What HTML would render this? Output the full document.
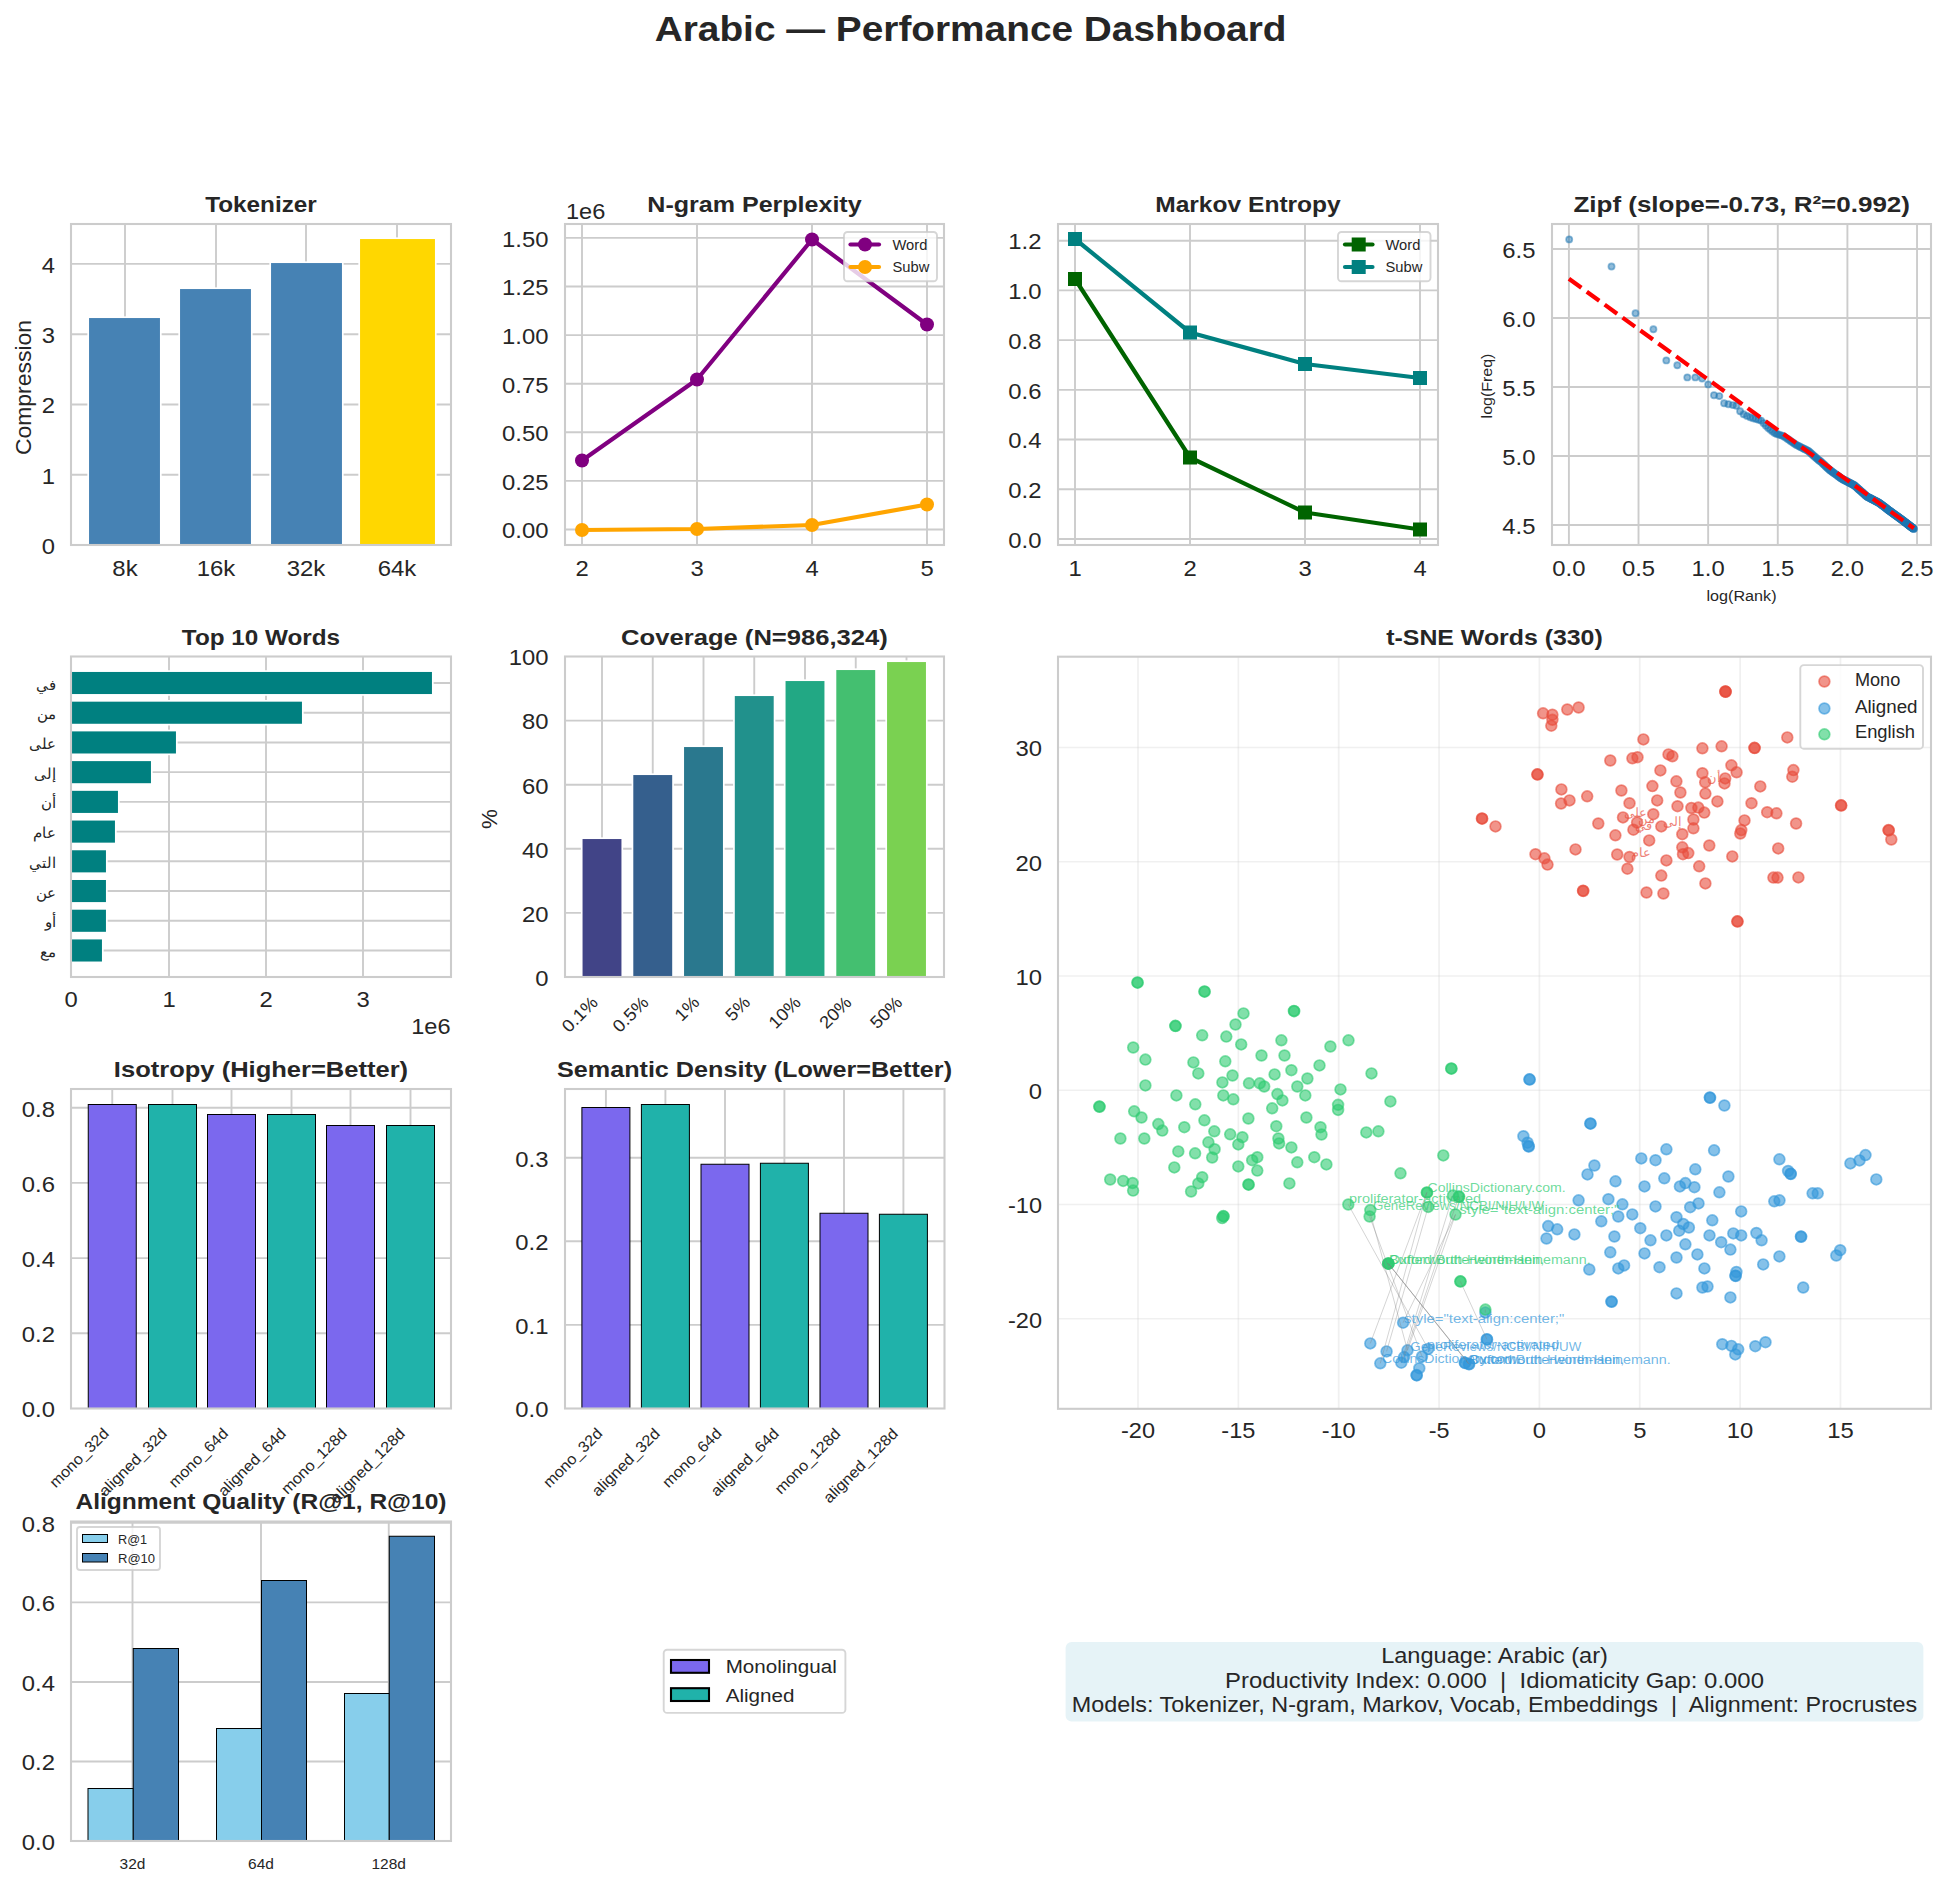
<!DOCTYPE html>
<html><head><meta charset="utf-8"><title>Arabic Performance Dashboard</title>
<style>html,body{margin:0;padding:0;background:#fff}svg{display:block}text{font-family:"Liberation Sans",sans-serif}</style>
</head><body>
<svg width="1948" height="1886" viewBox="0 0 1948 1886">
<rect width="1948" height="1886" fill="#fff"/>
<text x="970.60" y="41.20" font-size="35.00" text-anchor="middle" font-weight="bold" fill="#262626" textLength="631.79" lengthAdjust="spacingAndGlyphs" >Arabic — Performance Dashboard</text>
<line x1="125.00" y1="224.00" x2="125.00" y2="545.00" stroke="#cccccc" stroke-width="1.9" />
<line x1="216.00" y1="224.00" x2="216.00" y2="545.00" stroke="#cccccc" stroke-width="1.9" />
<line x1="306.00" y1="224.00" x2="306.00" y2="545.00" stroke="#cccccc" stroke-width="1.9" />
<line x1="397.00" y1="224.00" x2="397.00" y2="545.00" stroke="#cccccc" stroke-width="1.9" />
<line x1="71.00" y1="474.73" x2="451.00" y2="474.73" stroke="#cccccc" stroke-width="1.9" />
<line x1="71.00" y1="404.46" x2="451.00" y2="404.46" stroke="#cccccc" stroke-width="1.9" />
<line x1="71.00" y1="334.19" x2="451.00" y2="334.19" stroke="#cccccc" stroke-width="1.9" />
<line x1="71.00" y1="263.92" x2="451.00" y2="263.92" stroke="#cccccc" stroke-width="1.9" />
<rect x="88.20" y="317.20" width="72.60" height="227.80" fill="#4682b4" stroke="#fff" stroke-width="1.7" />
<rect x="179.20" y="288.20" width="72.60" height="256.80" fill="#4682b4" stroke="#fff" stroke-width="1.7" />
<rect x="270.20" y="262.20" width="72.60" height="282.80" fill="#4682b4" stroke="#fff" stroke-width="1.7" />
<rect x="359.20" y="238.20" width="76.60" height="306.80" fill="#ffd700" stroke="#fff" stroke-width="1.7" />
<rect x="71.00" y="224.00" width="380.00" height="321.00" fill="none" stroke="#cccccc" stroke-width="2.1"/>
<text x="55.00" y="553.80" font-size="21.87" text-anchor="end" fill="#262626" textLength="13.25" lengthAdjust="spacingAndGlyphs" >0</text>
<text x="55.00" y="483.53" font-size="21.87" text-anchor="end" fill="#262626" textLength="13.25" lengthAdjust="spacingAndGlyphs" >1</text>
<text x="55.00" y="413.26" font-size="21.87" text-anchor="end" fill="#262626" textLength="13.25" lengthAdjust="spacingAndGlyphs" >2</text>
<text x="55.00" y="342.99" font-size="21.87" text-anchor="end" fill="#262626" textLength="13.25" lengthAdjust="spacingAndGlyphs" >3</text>
<text x="55.00" y="272.72" font-size="21.87" text-anchor="end" fill="#262626" textLength="13.25" lengthAdjust="spacingAndGlyphs" >4</text>
<text x="125.00" y="575.50" font-size="21.87" text-anchor="middle" fill="#262626" textLength="25.32" lengthAdjust="spacingAndGlyphs" >8k</text>
<text x="216.00" y="575.50" font-size="21.87" text-anchor="middle" fill="#262626" textLength="38.57" lengthAdjust="spacingAndGlyphs" >16k</text>
<text x="306.00" y="575.50" font-size="21.87" text-anchor="middle" fill="#262626" textLength="38.57" lengthAdjust="spacingAndGlyphs" >32k</text>
<text x="397.00" y="575.50" font-size="21.87" text-anchor="middle" fill="#262626" textLength="38.57" lengthAdjust="spacingAndGlyphs" >64k</text>
<text transform="translate(30.50,387.50) rotate(-90)" x="0.00" y="0.00" font-size="21.87" text-anchor="middle" fill="#262626" textLength="135.16" lengthAdjust="spacingAndGlyphs" >Compression</text>
<text x="261.00" y="212.00" font-size="21.87" text-anchor="middle" font-weight="bold" fill="#262626" textLength="111.67" lengthAdjust="spacingAndGlyphs" >Tokenizer</text>
<line x1="582.00" y1="224.00" x2="582.00" y2="545.00" stroke="#cccccc" stroke-width="1.9" />
<line x1="697.00" y1="224.00" x2="697.00" y2="545.00" stroke="#cccccc" stroke-width="1.9" />
<line x1="812.00" y1="224.00" x2="812.00" y2="545.00" stroke="#cccccc" stroke-width="1.9" />
<line x1="927.00" y1="224.00" x2="927.00" y2="545.00" stroke="#cccccc" stroke-width="1.9" />
<line x1="565.00" y1="529.50" x2="944.00" y2="529.50" stroke="#cccccc" stroke-width="1.9" />
<line x1="565.00" y1="480.90" x2="944.00" y2="480.90" stroke="#cccccc" stroke-width="1.9" />
<line x1="565.00" y1="432.30" x2="944.00" y2="432.30" stroke="#cccccc" stroke-width="1.9" />
<line x1="565.00" y1="383.70" x2="944.00" y2="383.70" stroke="#cccccc" stroke-width="1.9" />
<line x1="565.00" y1="335.10" x2="944.00" y2="335.10" stroke="#cccccc" stroke-width="1.9" />
<line x1="565.00" y1="286.50" x2="944.00" y2="286.50" stroke="#cccccc" stroke-width="1.9" />
<line x1="565.00" y1="237.90" x2="944.00" y2="237.90" stroke="#cccccc" stroke-width="1.9" />
<polyline points="582.0,460.5 697.0,379.5 812.0,239.5 927.0,324.5" fill="none" stroke="#800080" stroke-width="4.2" stroke-linejoin="round"/>
<circle cx="582.0" cy="460.5" r="7" fill="#800080"/>
<circle cx="697.0" cy="379.5" r="7" fill="#800080"/>
<circle cx="812.0" cy="239.5" r="7" fill="#800080"/>
<circle cx="927.0" cy="324.5" r="7" fill="#800080"/>
<polyline points="582.0,530.0 697.0,529.0 812.0,525.0 927.0,504.5" fill="none" stroke="#ffa500" stroke-width="4.2" stroke-linejoin="round"/>
<circle cx="582.0" cy="530.0" r="7" fill="#ffa500"/>
<circle cx="697.0" cy="529.0" r="7" fill="#ffa500"/>
<circle cx="812.0" cy="525.0" r="7" fill="#ffa500"/>
<circle cx="927.0" cy="504.5" r="7" fill="#ffa500"/>
<rect x="565.00" y="224.00" width="379.00" height="321.00" fill="none" stroke="#cccccc" stroke-width="2.1"/>
<text x="548.50" y="538.30" font-size="21.87" text-anchor="end" fill="#262626" textLength="46.38" lengthAdjust="spacingAndGlyphs" >0.00</text>
<text x="548.50" y="489.70" font-size="21.87" text-anchor="end" fill="#262626" textLength="46.38" lengthAdjust="spacingAndGlyphs" >0.25</text>
<text x="548.50" y="441.10" font-size="21.87" text-anchor="end" fill="#262626" textLength="46.38" lengthAdjust="spacingAndGlyphs" >0.50</text>
<text x="548.50" y="392.50" font-size="21.87" text-anchor="end" fill="#262626" textLength="46.38" lengthAdjust="spacingAndGlyphs" >0.75</text>
<text x="548.50" y="343.90" font-size="21.87" text-anchor="end" fill="#262626" textLength="46.38" lengthAdjust="spacingAndGlyphs" >1.00</text>
<text x="548.50" y="295.30" font-size="21.87" text-anchor="end" fill="#262626" textLength="46.38" lengthAdjust="spacingAndGlyphs" >1.25</text>
<text x="548.50" y="246.70" font-size="21.87" text-anchor="end" fill="#262626" textLength="46.38" lengthAdjust="spacingAndGlyphs" >1.50</text>
<text x="582.00" y="575.50" font-size="21.87" text-anchor="middle" fill="#262626" textLength="13.25" lengthAdjust="spacingAndGlyphs" >2</text>
<text x="697.00" y="575.50" font-size="21.87" text-anchor="middle" fill="#262626" textLength="13.25" lengthAdjust="spacingAndGlyphs" >3</text>
<text x="812.00" y="575.50" font-size="21.87" text-anchor="middle" fill="#262626" textLength="13.25" lengthAdjust="spacingAndGlyphs" >4</text>
<text x="927.00" y="575.50" font-size="21.87" text-anchor="middle" fill="#262626" textLength="13.25" lengthAdjust="spacingAndGlyphs" >5</text>
<text x="566.00" y="218.50" font-size="21.87" fill="#262626" textLength="39.32" lengthAdjust="spacingAndGlyphs" >1e6</text>
<text x="754.50" y="212.00" font-size="21.87" text-anchor="middle" font-weight="bold" fill="#262626" textLength="214.23" lengthAdjust="spacingAndGlyphs" >N-gram Perplexity</text>
<rect x="844.00" y="232.00" width="93.00" height="49.30" rx="3.5" fill="#fff" fill-opacity="0.8" stroke="#cccccc" stroke-width="1.9" stroke-opacity="0.8"/>
<line x1="850.50" y1="244.50" x2="879.00" y2="244.50" stroke="#800080" stroke-width="4.2" stroke-linecap="round"/>
<circle cx="865" cy="244.5" r="7" fill="#800080"/>
<line x1="850.50" y1="267.00" x2="879.00" y2="267.00" stroke="#ffa500" stroke-width="4.2" stroke-linecap="round"/>
<circle cx="865" cy="267" r="7" fill="#ffa500"/>
<text x="892.50" y="249.50" font-size="14.22" fill="#262626" textLength="34.80" lengthAdjust="spacingAndGlyphs" >Word</text>
<text x="892.50" y="272.00" font-size="14.22" fill="#262626" textLength="36.85" lengthAdjust="spacingAndGlyphs" >Subw</text>
<line x1="1075.00" y1="224.00" x2="1075.00" y2="545.00" stroke="#cccccc" stroke-width="1.9" />
<line x1="1190.00" y1="224.00" x2="1190.00" y2="545.00" stroke="#cccccc" stroke-width="1.9" />
<line x1="1305.00" y1="224.00" x2="1305.00" y2="545.00" stroke="#cccccc" stroke-width="1.9" />
<line x1="1420.00" y1="224.00" x2="1420.00" y2="545.00" stroke="#cccccc" stroke-width="1.9" />
<line x1="1058.00" y1="539.00" x2="1438.00" y2="539.00" stroke="#cccccc" stroke-width="1.9" />
<line x1="1058.00" y1="489.28" x2="1438.00" y2="489.28" stroke="#cccccc" stroke-width="1.9" />
<line x1="1058.00" y1="439.56" x2="1438.00" y2="439.56" stroke="#cccccc" stroke-width="1.9" />
<line x1="1058.00" y1="389.84" x2="1438.00" y2="389.84" stroke="#cccccc" stroke-width="1.9" />
<line x1="1058.00" y1="340.12" x2="1438.00" y2="340.12" stroke="#cccccc" stroke-width="1.9" />
<line x1="1058.00" y1="290.40" x2="1438.00" y2="290.40" stroke="#cccccc" stroke-width="1.9" />
<line x1="1058.00" y1="240.68" x2="1438.00" y2="240.68" stroke="#cccccc" stroke-width="1.9" />
<polyline points="1075.0,279.0 1190.0,457.5 1305.0,512.5 1420.0,529.5" fill="none" stroke="#006400" stroke-width="4.2" stroke-linejoin="round"/>
<rect x="1068.0" y="272.0" width="14" height="14" fill="#006400"/>
<rect x="1183.0" y="450.5" width="14" height="14" fill="#006400"/>
<rect x="1298.0" y="505.5" width="14" height="14" fill="#006400"/>
<rect x="1413.0" y="522.5" width="14" height="14" fill="#006400"/>
<polyline points="1075.0,239.0 1190.0,332.5 1305.0,364.0 1420.0,378.0" fill="none" stroke="#008080" stroke-width="4.2" stroke-linejoin="round"/>
<rect x="1068.0" y="232.0" width="14" height="14" fill="#008080"/>
<rect x="1183.0" y="325.5" width="14" height="14" fill="#008080"/>
<rect x="1298.0" y="357.0" width="14" height="14" fill="#008080"/>
<rect x="1413.0" y="371.0" width="14" height="14" fill="#008080"/>
<rect x="1058.00" y="224.00" width="380.00" height="321.00" fill="none" stroke="#cccccc" stroke-width="2.1"/>
<text x="1041.50" y="547.80" font-size="21.87" text-anchor="end" fill="#262626" textLength="33.13" lengthAdjust="spacingAndGlyphs" >0.0</text>
<text x="1041.50" y="498.08" font-size="21.87" text-anchor="end" fill="#262626" textLength="33.13" lengthAdjust="spacingAndGlyphs" >0.2</text>
<text x="1041.50" y="448.36" font-size="21.87" text-anchor="end" fill="#262626" textLength="33.13" lengthAdjust="spacingAndGlyphs" >0.4</text>
<text x="1041.50" y="398.64" font-size="21.87" text-anchor="end" fill="#262626" textLength="33.13" lengthAdjust="spacingAndGlyphs" >0.6</text>
<text x="1041.50" y="348.92" font-size="21.87" text-anchor="end" fill="#262626" textLength="33.13" lengthAdjust="spacingAndGlyphs" >0.8</text>
<text x="1041.50" y="299.20" font-size="21.87" text-anchor="end" fill="#262626" textLength="33.13" lengthAdjust="spacingAndGlyphs" >1.0</text>
<text x="1041.50" y="249.48" font-size="21.87" text-anchor="end" fill="#262626" textLength="33.13" lengthAdjust="spacingAndGlyphs" >1.2</text>
<text x="1075.00" y="575.50" font-size="21.87" text-anchor="middle" fill="#262626" textLength="13.25" lengthAdjust="spacingAndGlyphs" >1</text>
<text x="1190.00" y="575.50" font-size="21.87" text-anchor="middle" fill="#262626" textLength="13.25" lengthAdjust="spacingAndGlyphs" >2</text>
<text x="1305.00" y="575.50" font-size="21.87" text-anchor="middle" fill="#262626" textLength="13.25" lengthAdjust="spacingAndGlyphs" >3</text>
<text x="1420.00" y="575.50" font-size="21.87" text-anchor="middle" fill="#262626" textLength="13.25" lengthAdjust="spacingAndGlyphs" >4</text>
<text x="1248.00" y="212.00" font-size="21.87" text-anchor="middle" font-weight="bold" fill="#262626" textLength="185.58" lengthAdjust="spacingAndGlyphs" >Markov Entropy</text>
<rect x="1338.00" y="232.00" width="92.50" height="49.30" rx="3.5" fill="#fff" fill-opacity="0.8" stroke="#cccccc" stroke-width="1.9" stroke-opacity="0.8"/>
<line x1="1345.00" y1="244.50" x2="1372.50" y2="244.50" stroke="#006400" stroke-width="4.2" stroke-linecap="round"/>
<rect x="1351.7" y="237.5" width="14" height="14" fill="#006400"/>
<line x1="1345.00" y1="267.00" x2="1372.50" y2="267.00" stroke="#008080" stroke-width="4.2" stroke-linecap="round"/>
<rect x="1351.7" y="260.0" width="14" height="14" fill="#008080"/>
<text x="1385.50" y="249.50" font-size="14.22" fill="#262626" textLength="34.80" lengthAdjust="spacingAndGlyphs" >Word</text>
<text x="1385.50" y="272.00" font-size="14.22" fill="#262626" textLength="36.85" lengthAdjust="spacingAndGlyphs" >Subw</text>
<line x1="1568.90" y1="224.00" x2="1568.90" y2="545.00" stroke="#cccccc" stroke-width="1.9" />
<line x1="1638.53" y1="224.00" x2="1638.53" y2="545.00" stroke="#cccccc" stroke-width="1.9" />
<line x1="1708.15" y1="224.00" x2="1708.15" y2="545.00" stroke="#cccccc" stroke-width="1.9" />
<line x1="1777.78" y1="224.00" x2="1777.78" y2="545.00" stroke="#cccccc" stroke-width="1.9" />
<line x1="1847.40" y1="224.00" x2="1847.40" y2="545.00" stroke="#cccccc" stroke-width="1.9" />
<line x1="1917.03" y1="224.00" x2="1917.03" y2="545.00" stroke="#cccccc" stroke-width="1.9" />
<line x1="1552.00" y1="525.00" x2="1931.00" y2="525.00" stroke="#cccccc" stroke-width="1.9" />
<line x1="1552.00" y1="456.00" x2="1931.00" y2="456.00" stroke="#cccccc" stroke-width="1.9" />
<line x1="1552.00" y1="387.00" x2="1931.00" y2="387.00" stroke="#cccccc" stroke-width="1.9" />
<line x1="1552.00" y1="318.00" x2="1931.00" y2="318.00" stroke="#cccccc" stroke-width="1.9" />
<line x1="1552.00" y1="249.00" x2="1931.00" y2="249.00" stroke="#cccccc" stroke-width="1.9" />
<g fill="#1f77b4" fill-opacity="0.5" stroke="#1f77b4" stroke-opacity="0.5" stroke-width="1.7">
<circle cx="1569.2" cy="239.4" r="3.1"/>
<circle cx="1611.5" cy="266.5" r="3.1"/>
<circle cx="1635.5" cy="313.3" r="3.1"/>
<circle cx="1653.4" cy="329.3" r="3.1"/>
<circle cx="1666.3" cy="360.4" r="3.1"/>
<circle cx="1677.3" cy="365.3" r="3.1"/>
<circle cx="1687.3" cy="377.4" r="3.1"/>
<circle cx="1695.3" cy="377.4" r="3.1"/>
<circle cx="1702.1" cy="378.6" r="3.1"/>
<circle cx="1708.2" cy="384.4" r="3.1"/>
<circle cx="1714.0" cy="395.2" r="3.1"/>
<circle cx="1719.3" cy="396.1" r="3.1"/>
<circle cx="1724.1" cy="403.3" r="3.1"/>
<circle cx="1728.4" cy="404.2" r="3.1"/>
<circle cx="1732.9" cy="405.1" r="3.1"/>
<circle cx="1736.4" cy="405.7" r="3.1"/>
<circle cx="1740.1" cy="411.3" r="3.1"/>
<circle cx="1743.6" cy="414.3" r="3.1"/>
<circle cx="1747.0" cy="415.9" r="3.1"/>
<circle cx="1750.1" cy="417.2" r="3.1"/>
<circle cx="1753.0" cy="418.2" r="3.1"/>
<circle cx="1755.8" cy="419.0" r="3.1"/>
<circle cx="1758.5" cy="419.8" r="3.1"/>
<circle cx="1761.1" cy="420.6" r="3.1"/>
<circle cx="1763.6" cy="423.2" r="3.1"/>
<circle cx="1765.9" cy="425.8" r="3.1"/>
<circle cx="1768.2" cy="428.1" r="3.1"/>
<circle cx="1770.4" cy="429.8" r="3.1"/>
<circle cx="1772.5" cy="431.5" r="3.1"/>
<circle cx="1774.6" cy="433.1" r="3.1"/>
<circle cx="1776.6" cy="433.9" r="3.1"/>
<circle cx="1778.5" cy="434.5" r="3.1"/>
<circle cx="1780.4" cy="435.1" r="3.1"/>
<circle cx="1782.2" cy="435.6" r="3.1"/>
<circle cx="1783.9" cy="436.4" r="3.1"/>
<circle cx="1785.6" cy="437.6" r="3.1"/>
<circle cx="1787.3" cy="438.7" r="3.1"/>
<circle cx="1788.9" cy="439.8" r="3.1"/>
<circle cx="1790.5" cy="440.9" r="3.1"/>
<circle cx="1792.0" cy="442.0" r="3.1"/>
<circle cx="1793.5" cy="443.0" r="3.1"/>
<circle cx="1794.9" cy="444.0" r="3.1"/>
<circle cx="1796.4" cy="444.9" r="3.1"/>
<circle cx="1797.8" cy="445.6" r="3.1"/>
<circle cx="1799.1" cy="446.3" r="3.1"/>
<circle cx="1800.4" cy="447.0" r="3.1"/>
<circle cx="1801.7" cy="447.6" r="3.1"/>
<circle cx="1803.0" cy="448.3" r="3.1"/>
<circle cx="1804.3" cy="448.9" r="3.1"/>
<circle cx="1805.5" cy="449.5" r="3.1"/>
<circle cx="1806.7" cy="450.1" r="3.1"/>
<circle cx="1807.9" cy="450.7" r="3.1"/>
<circle cx="1809.0" cy="451.5" r="3.1"/>
<circle cx="1810.1" cy="452.5" r="3.1"/>
<circle cx="1811.2" cy="453.5" r="3.1"/>
<circle cx="1812.3" cy="454.5" r="3.1"/>
<circle cx="1813.4" cy="455.4" r="3.1"/>
<circle cx="1814.5" cy="456.4" r="3.1"/>
<circle cx="1815.5" cy="457.3" r="3.1"/>
<circle cx="1816.5" cy="458.2" r="3.1"/>
<circle cx="1817.5" cy="459.1" r="3.1"/>
<circle cx="1818.5" cy="459.9" r="3.1"/>
<circle cx="1819.5" cy="460.8" r="3.1"/>
<circle cx="1820.4" cy="461.3" r="3.1"/>
<circle cx="1821.3" cy="462.1" r="3.1"/>
<circle cx="1822.3" cy="463.0" r="3.1"/>
<circle cx="1823.2" cy="463.9" r="3.1"/>
<circle cx="1824.1" cy="464.7" r="3.1"/>
<circle cx="1825.0" cy="465.5" r="3.1"/>
<circle cx="1825.8" cy="466.4" r="3.1"/>
<circle cx="1826.7" cy="467.2" r="3.1"/>
<circle cx="1827.5" cy="468.0" r="3.1"/>
<circle cx="1828.4" cy="468.8" r="3.1"/>
<circle cx="1829.2" cy="469.6" r="3.1"/>
<circle cx="1830.0" cy="470.2" r="3.1"/>
<circle cx="1830.8" cy="470.8" r="3.1"/>
<circle cx="1831.6" cy="471.3" r="3.1"/>
<circle cx="1832.4" cy="471.9" r="3.1"/>
<circle cx="1833.1" cy="472.5" r="3.1"/>
<circle cx="1833.9" cy="473.0" r="3.1"/>
<circle cx="1834.7" cy="473.6" r="3.1"/>
<circle cx="1835.4" cy="474.1" r="3.1"/>
<circle cx="1836.1" cy="474.6" r="3.1"/>
<circle cx="1836.9" cy="475.1" r="3.1"/>
<circle cx="1837.6" cy="475.7" r="3.1"/>
<circle cx="1838.3" cy="476.2" r="3.1"/>
<circle cx="1839.0" cy="476.7" r="3.1"/>
<circle cx="1839.7" cy="477.2" r="3.1"/>
<circle cx="1840.4" cy="477.7" r="3.1"/>
<circle cx="1841.0" cy="478.2" r="3.1"/>
<circle cx="1841.7" cy="478.6" r="3.1"/>
<circle cx="1842.4" cy="479.0" r="3.1"/>
<circle cx="1843.0" cy="479.4" r="3.1"/>
<circle cx="1843.7" cy="479.7" r="3.1"/>
<circle cx="1844.3" cy="480.0" r="3.1"/>
<circle cx="1844.9" cy="480.4" r="3.1"/>
<circle cx="1845.6" cy="480.7" r="3.1"/>
<circle cx="1846.2" cy="481.0" r="3.1"/>
<circle cx="1846.8" cy="481.3" r="3.1"/>
<circle cx="1847.4" cy="481.7" r="3.1"/>
<circle cx="1848.0" cy="482.0" r="3.1"/>
<circle cx="1848.6" cy="482.3" r="3.1"/>
<circle cx="1849.2" cy="482.6" r="3.1"/>
<circle cx="1849.8" cy="482.9" r="3.1"/>
<circle cx="1850.4" cy="483.2" r="3.1"/>
<circle cx="1850.9" cy="483.5" r="3.1"/>
<circle cx="1851.5" cy="483.8" r="3.1"/>
<circle cx="1852.1" cy="484.1" r="3.1"/>
<circle cx="1852.6" cy="484.4" r="3.1"/>
<circle cx="1853.2" cy="484.7" r="3.1"/>
<circle cx="1853.7" cy="485.0" r="3.1"/>
<circle cx="1854.3" cy="485.3" r="3.1"/>
<circle cx="1854.8" cy="485.7" r="3.1"/>
<circle cx="1855.3" cy="486.2" r="3.1"/>
<circle cx="1855.9" cy="486.6" r="3.1"/>
<circle cx="1856.4" cy="487.1" r="3.1"/>
<circle cx="1856.9" cy="487.6" r="3.1"/>
<circle cx="1857.4" cy="488.0" r="3.1"/>
<circle cx="1857.9" cy="488.5" r="3.1"/>
<circle cx="1858.4" cy="488.9" r="3.1"/>
<circle cx="1858.9" cy="489.4" r="3.1"/>
<circle cx="1859.4" cy="489.8" r="3.1"/>
<circle cx="1859.9" cy="490.3" r="3.1"/>
<circle cx="1860.4" cy="490.7" r="3.1"/>
<circle cx="1860.9" cy="491.1" r="3.1"/>
<circle cx="1861.4" cy="491.6" r="3.1"/>
<circle cx="1861.9" cy="492.0" r="3.1"/>
<circle cx="1862.3" cy="492.4" r="3.1"/>
<circle cx="1862.8" cy="492.8" r="3.1"/>
<circle cx="1863.3" cy="493.2" r="3.1"/>
<circle cx="1863.7" cy="493.6" r="3.1"/>
<circle cx="1864.2" cy="494.1" r="3.1"/>
<circle cx="1864.6" cy="494.5" r="3.1"/>
<circle cx="1865.1" cy="494.9" r="3.1"/>
<circle cx="1865.5" cy="495.3" r="3.1"/>
<circle cx="1866.0" cy="495.7" r="3.1"/>
<circle cx="1866.4" cy="496.1" r="3.1"/>
<circle cx="1866.9" cy="496.4" r="3.1"/>
<circle cx="1867.3" cy="496.7" r="3.1"/>
<circle cx="1867.7" cy="496.9" r="3.1"/>
<circle cx="1868.2" cy="497.1" r="3.1"/>
<circle cx="1868.6" cy="497.4" r="3.1"/>
<circle cx="1869.0" cy="497.6" r="3.1"/>
<circle cx="1869.5" cy="497.8" r="3.1"/>
<circle cx="1869.9" cy="498.0" r="3.1"/>
<circle cx="1870.3" cy="498.2" r="3.1"/>
<circle cx="1870.7" cy="498.5" r="3.1"/>
<circle cx="1871.1" cy="498.7" r="3.1"/>
<circle cx="1871.5" cy="498.9" r="3.1"/>
<circle cx="1871.9" cy="499.1" r="3.1"/>
<circle cx="1872.3" cy="499.3" r="3.1"/>
<circle cx="1872.7" cy="499.5" r="3.1"/>
<circle cx="1873.1" cy="499.7" r="3.1"/>
<circle cx="1873.5" cy="499.9" r="3.1"/>
<circle cx="1873.9" cy="500.1" r="3.1"/>
<circle cx="1874.3" cy="500.3" r="3.1"/>
<circle cx="1874.7" cy="500.6" r="3.1"/>
<circle cx="1875.1" cy="500.8" r="3.1"/>
<circle cx="1875.4" cy="501.0" r="3.1"/>
<circle cx="1875.8" cy="501.2" r="3.1"/>
<circle cx="1876.2" cy="501.3" r="3.1"/>
<circle cx="1876.6" cy="501.5" r="3.1"/>
<circle cx="1876.9" cy="501.7" r="3.1"/>
<circle cx="1877.3" cy="501.9" r="3.1"/>
<circle cx="1877.7" cy="502.1" r="3.1"/>
<circle cx="1878.1" cy="502.3" r="3.1"/>
<circle cx="1878.4" cy="502.5" r="3.1"/>
<circle cx="1878.8" cy="502.7" r="3.1"/>
<circle cx="1879.1" cy="502.9" r="3.1"/>
<circle cx="1879.5" cy="503.1" r="3.1"/>
<circle cx="1879.8" cy="503.4" r="3.1"/>
<circle cx="1880.2" cy="503.6" r="3.1"/>
<circle cx="1880.5" cy="503.9" r="3.1"/>
<circle cx="1880.9" cy="504.2" r="3.1"/>
<circle cx="1881.2" cy="504.4" r="3.1"/>
<circle cx="1881.6" cy="504.7" r="3.1"/>
<circle cx="1881.9" cy="505.0" r="3.1"/>
<circle cx="1882.3" cy="505.2" r="3.1"/>
<circle cx="1882.6" cy="505.5" r="3.1"/>
<circle cx="1882.9" cy="505.7" r="3.1"/>
<circle cx="1883.3" cy="506.0" r="3.1"/>
<circle cx="1883.6" cy="506.3" r="3.1"/>
<circle cx="1883.9" cy="506.5" r="3.1"/>
<circle cx="1884.3" cy="506.8" r="3.1"/>
<circle cx="1884.6" cy="507.0" r="3.1"/>
<circle cx="1884.9" cy="507.3" r="3.1"/>
<circle cx="1885.3" cy="507.5" r="3.1"/>
<circle cx="1885.6" cy="507.8" r="3.1"/>
<circle cx="1885.9" cy="508.0" r="3.1"/>
<circle cx="1886.2" cy="508.2" r="3.1"/>
<circle cx="1886.5" cy="508.5" r="3.1"/>
<circle cx="1886.8" cy="508.7" r="3.1"/>
<circle cx="1887.2" cy="509.0" r="3.1"/>
<circle cx="1887.5" cy="509.2" r="3.1"/>
<circle cx="1887.8" cy="509.4" r="3.1"/>
<circle cx="1888.1" cy="509.7" r="3.1"/>
<circle cx="1888.4" cy="509.9" r="3.1"/>
<circle cx="1888.7" cy="510.2" r="3.1"/>
<circle cx="1889.0" cy="510.4" r="3.1"/>
<circle cx="1889.3" cy="510.6" r="3.1"/>
<circle cx="1889.6" cy="510.8" r="3.1"/>
<circle cx="1889.9" cy="511.0" r="3.1"/>
<circle cx="1890.2" cy="511.3" r="3.1"/>
<circle cx="1890.5" cy="511.5" r="3.1"/>
<circle cx="1890.8" cy="511.7" r="3.1"/>
<circle cx="1891.1" cy="511.9" r="3.1"/>
<circle cx="1891.4" cy="512.1" r="3.1"/>
<circle cx="1891.7" cy="512.3" r="3.1"/>
<circle cx="1892.0" cy="512.5" r="3.1"/>
<circle cx="1892.3" cy="512.7" r="3.1"/>
<circle cx="1892.6" cy="513.0" r="3.1"/>
<circle cx="1892.8" cy="513.2" r="3.1"/>
<circle cx="1893.1" cy="513.4" r="3.1"/>
<circle cx="1893.4" cy="513.6" r="3.1"/>
<circle cx="1893.7" cy="513.8" r="3.1"/>
<circle cx="1894.0" cy="514.0" r="3.1"/>
<circle cx="1894.3" cy="514.2" r="3.1"/>
<circle cx="1894.5" cy="514.4" r="3.1"/>
<circle cx="1894.8" cy="514.6" r="3.1"/>
<circle cx="1895.1" cy="514.8" r="3.1"/>
<circle cx="1895.4" cy="515.0" r="3.1"/>
<circle cx="1895.6" cy="515.2" r="3.1"/>
<circle cx="1895.9" cy="515.4" r="3.1"/>
<circle cx="1896.2" cy="515.6" r="3.1"/>
<circle cx="1896.4" cy="515.8" r="3.1"/>
<circle cx="1896.7" cy="516.0" r="3.1"/>
<circle cx="1897.0" cy="516.2" r="3.1"/>
<circle cx="1897.2" cy="516.3" r="3.1"/>
<circle cx="1897.5" cy="516.5" r="3.1"/>
<circle cx="1897.8" cy="516.7" r="3.1"/>
<circle cx="1898.0" cy="516.9" r="3.1"/>
<circle cx="1898.3" cy="517.1" r="3.1"/>
<circle cx="1898.6" cy="517.3" r="3.1"/>
<circle cx="1898.8" cy="517.5" r="3.1"/>
<circle cx="1899.1" cy="517.7" r="3.1"/>
<circle cx="1899.3" cy="517.9" r="3.1"/>
<circle cx="1899.6" cy="518.0" r="3.1"/>
<circle cx="1899.8" cy="518.2" r="3.1"/>
<circle cx="1900.1" cy="518.4" r="3.1"/>
<circle cx="1900.3" cy="518.6" r="3.1"/>
<circle cx="1900.6" cy="518.8" r="3.1"/>
<circle cx="1900.8" cy="519.0" r="3.1"/>
<circle cx="1901.1" cy="519.1" r="3.1"/>
<circle cx="1901.3" cy="519.3" r="3.1"/>
<circle cx="1901.6" cy="519.5" r="3.1"/>
<circle cx="1901.8" cy="519.7" r="3.1"/>
<circle cx="1902.1" cy="519.9" r="3.1"/>
<circle cx="1902.3" cy="520.1" r="3.1"/>
<circle cx="1902.6" cy="520.2" r="3.1"/>
<circle cx="1902.8" cy="520.4" r="3.1"/>
<circle cx="1903.1" cy="520.6" r="3.1"/>
<circle cx="1903.3" cy="520.8" r="3.1"/>
<circle cx="1903.5" cy="521.0" r="3.1"/>
<circle cx="1903.8" cy="521.2" r="3.1"/>
<circle cx="1904.0" cy="521.3" r="3.1"/>
<circle cx="1904.2" cy="521.5" r="3.1"/>
<circle cx="1904.5" cy="521.7" r="3.1"/>
<circle cx="1904.7" cy="521.9" r="3.1"/>
<circle cx="1905.0" cy="522.1" r="3.1"/>
<circle cx="1905.2" cy="522.3" r="3.1"/>
<circle cx="1905.4" cy="522.4" r="3.1"/>
<circle cx="1905.6" cy="522.6" r="3.1"/>
<circle cx="1905.9" cy="522.8" r="3.1"/>
<circle cx="1906.1" cy="523.0" r="3.1"/>
<circle cx="1906.3" cy="523.1" r="3.1"/>
<circle cx="1906.6" cy="523.3" r="3.1"/>
<circle cx="1906.8" cy="523.5" r="3.1"/>
<circle cx="1907.0" cy="523.7" r="3.1"/>
<circle cx="1907.2" cy="523.8" r="3.1"/>
<circle cx="1907.5" cy="524.0" r="3.1"/>
<circle cx="1907.7" cy="524.2" r="3.1"/>
<circle cx="1907.9" cy="524.4" r="3.1"/>
<circle cx="1908.1" cy="524.5" r="3.1"/>
<circle cx="1908.4" cy="524.7" r="3.1"/>
<circle cx="1908.6" cy="524.9" r="3.1"/>
<circle cx="1908.8" cy="525.0" r="3.1"/>
<circle cx="1909.0" cy="525.2" r="3.1"/>
<circle cx="1909.2" cy="525.4" r="3.1"/>
<circle cx="1909.5" cy="525.5" r="3.1"/>
<circle cx="1909.7" cy="525.7" r="3.1"/>
<circle cx="1909.9" cy="525.9" r="3.1"/>
<circle cx="1910.1" cy="526.0" r="3.1"/>
<circle cx="1910.3" cy="526.2" r="3.1"/>
<circle cx="1910.5" cy="526.4" r="3.1"/>
<circle cx="1910.7" cy="526.5" r="3.1"/>
<circle cx="1910.9" cy="526.7" r="3.1"/>
<circle cx="1911.2" cy="526.9" r="3.1"/>
<circle cx="1911.4" cy="527.0" r="3.1"/>
<circle cx="1911.6" cy="527.2" r="3.1"/>
<circle cx="1911.8" cy="527.3" r="3.1"/>
<circle cx="1912.0" cy="527.5" r="3.1"/>
<circle cx="1912.2" cy="527.7" r="3.1"/>
<circle cx="1912.4" cy="527.8" r="3.1"/>
<circle cx="1912.6" cy="528.0" r="3.1"/>
<circle cx="1912.8" cy="528.1" r="3.1"/>
<circle cx="1913.0" cy="528.3" r="3.1"/>
<circle cx="1913.2" cy="528.4" r="3.1"/>
<circle cx="1913.4" cy="528.6" r="3.1"/>
<circle cx="1913.6" cy="528.8" r="3.1"/>
<circle cx="1913.8" cy="528.9" r="3.1"/>
</g>
<line x1="1568.9" y1="278.8" x2="1913.8" y2="528.3" stroke="#ff0000" stroke-width="4.2" stroke-dasharray="15.4 6.67"/>
<rect x="1552.00" y="224.00" width="379.00" height="321.00" fill="none" stroke="#cccccc" stroke-width="2.1"/>
<text x="1535.50" y="533.80" font-size="21.87" text-anchor="end" fill="#262626" textLength="33.13" lengthAdjust="spacingAndGlyphs" >4.5</text>
<text x="1535.50" y="464.80" font-size="21.87" text-anchor="end" fill="#262626" textLength="33.13" lengthAdjust="spacingAndGlyphs" >5.0</text>
<text x="1535.50" y="395.80" font-size="21.87" text-anchor="end" fill="#262626" textLength="33.13" lengthAdjust="spacingAndGlyphs" >5.5</text>
<text x="1535.50" y="326.80" font-size="21.87" text-anchor="end" fill="#262626" textLength="33.13" lengthAdjust="spacingAndGlyphs" >6.0</text>
<text x="1535.50" y="257.80" font-size="21.87" text-anchor="end" fill="#262626" textLength="33.13" lengthAdjust="spacingAndGlyphs" >6.5</text>
<text x="1568.90" y="575.50" font-size="21.87" text-anchor="middle" fill="#262626" textLength="33.13" lengthAdjust="spacingAndGlyphs" >0.0</text>
<text x="1638.53" y="575.50" font-size="21.87" text-anchor="middle" fill="#262626" textLength="33.13" lengthAdjust="spacingAndGlyphs" >0.5</text>
<text x="1708.15" y="575.50" font-size="21.87" text-anchor="middle" fill="#262626" textLength="33.13" lengthAdjust="spacingAndGlyphs" >1.0</text>
<text x="1777.78" y="575.50" font-size="21.87" text-anchor="middle" fill="#262626" textLength="33.13" lengthAdjust="spacingAndGlyphs" >1.5</text>
<text x="1847.40" y="575.50" font-size="21.87" text-anchor="middle" fill="#262626" textLength="33.13" lengthAdjust="spacingAndGlyphs" >2.0</text>
<text x="1917.03" y="575.50" font-size="21.87" text-anchor="middle" fill="#262626" textLength="33.13" lengthAdjust="spacingAndGlyphs" >2.5</text>
<text x="1741.70" y="212.00" font-size="21.87" text-anchor="middle" font-weight="bold" fill="#262626" textLength="336.56" lengthAdjust="spacingAndGlyphs" >Zipf (slope=-0.73, R²=0.992)</text>
<text x="1741.50" y="601.00" font-size="15.31" text-anchor="middle" fill="#262626" textLength="70.03" lengthAdjust="spacingAndGlyphs" >log(Rank)</text>
<text transform="translate(1491.50,386.00) rotate(-90)" x="0.00" y="0.00" font-size="15.31" text-anchor="middle" fill="#262626" textLength="64.83" lengthAdjust="spacingAndGlyphs" >log(Freq)</text>
<line x1="169.00" y1="656.50" x2="169.00" y2="977.00" stroke="#cccccc" stroke-width="1.9" />
<line x1="266.00" y1="656.50" x2="266.00" y2="977.00" stroke="#cccccc" stroke-width="1.9" />
<line x1="363.00" y1="656.50" x2="363.00" y2="977.00" stroke="#cccccc" stroke-width="1.9" />
<line x1="71.00" y1="683.00" x2="451.00" y2="683.00" stroke="#cccccc" stroke-width="1.9" />
<line x1="71.00" y1="712.72" x2="451.00" y2="712.72" stroke="#cccccc" stroke-width="1.9" />
<line x1="71.00" y1="742.44" x2="451.00" y2="742.44" stroke="#cccccc" stroke-width="1.9" />
<line x1="71.00" y1="772.16" x2="451.00" y2="772.16" stroke="#cccccc" stroke-width="1.9" />
<line x1="71.00" y1="801.88" x2="451.00" y2="801.88" stroke="#cccccc" stroke-width="1.9" />
<line x1="71.00" y1="831.60" x2="451.00" y2="831.60" stroke="#cccccc" stroke-width="1.9" />
<line x1="71.00" y1="861.32" x2="451.00" y2="861.32" stroke="#cccccc" stroke-width="1.9" />
<line x1="71.00" y1="891.04" x2="451.00" y2="891.04" stroke="#cccccc" stroke-width="1.9" />
<line x1="71.00" y1="920.76" x2="451.00" y2="920.76" stroke="#cccccc" stroke-width="1.9" />
<line x1="71.00" y1="950.48" x2="451.00" y2="950.48" stroke="#cccccc" stroke-width="1.9" />
<rect x="71.00" y="671.10" width="361.80" height="23.80" fill="#008080" stroke="#fff" stroke-width="1.7" />
<rect x="71.00" y="700.82" width="231.80" height="23.80" fill="#008080" stroke="#fff" stroke-width="1.7" />
<rect x="71.00" y="730.54" width="105.80" height="23.80" fill="#008080" stroke="#fff" stroke-width="1.7" />
<rect x="71.00" y="760.26" width="80.80" height="23.80" fill="#008080" stroke="#fff" stroke-width="1.7" />
<rect x="71.00" y="789.98" width="47.80" height="23.80" fill="#008080" stroke="#fff" stroke-width="1.7" />
<rect x="71.00" y="819.70" width="44.80" height="23.80" fill="#008080" stroke="#fff" stroke-width="1.7" />
<rect x="71.00" y="849.42" width="35.80" height="23.80" fill="#008080" stroke="#fff" stroke-width="1.7" />
<rect x="71.00" y="879.14" width="35.80" height="23.80" fill="#008080" stroke="#fff" stroke-width="1.7" />
<rect x="71.00" y="908.86" width="35.80" height="23.80" fill="#008080" stroke="#fff" stroke-width="1.7" />
<rect x="71.00" y="938.58" width="31.80" height="23.80" fill="#008080" stroke="#fff" stroke-width="1.7" />
<rect x="71.00" y="656.50" width="380.00" height="320.50" fill="none" stroke="#cccccc" stroke-width="2.1"/>
<text x="56.00" y="689.50" font-size="15.31" text-anchor="end" fill="#262626" >في</text>
<text x="56.00" y="719.22" font-size="15.31" text-anchor="end" fill="#262626" >من</text>
<text x="56.00" y="748.94" font-size="15.31" text-anchor="end" fill="#262626" >على</text>
<text x="56.00" y="778.66" font-size="15.31" text-anchor="end" fill="#262626" >إلى</text>
<text x="56.00" y="808.38" font-size="15.31" text-anchor="end" fill="#262626" >أن</text>
<text x="56.00" y="838.10" font-size="15.31" text-anchor="end" fill="#262626" >عام</text>
<text x="56.00" y="867.82" font-size="15.31" text-anchor="end" fill="#262626" >التي</text>
<text x="56.00" y="897.54" font-size="15.31" text-anchor="end" fill="#262626" >عن</text>
<text x="56.00" y="927.26" font-size="15.31" text-anchor="end" fill="#262626" >أو</text>
<text x="56.00" y="956.98" font-size="15.31" text-anchor="end" fill="#262626" >مع</text>
<text x="71.00" y="1007.00" font-size="21.87" text-anchor="middle" fill="#262626" textLength="13.25" lengthAdjust="spacingAndGlyphs" >0</text>
<text x="169.00" y="1007.00" font-size="21.87" text-anchor="middle" fill="#262626" textLength="13.25" lengthAdjust="spacingAndGlyphs" >1</text>
<text x="266.00" y="1007.00" font-size="21.87" text-anchor="middle" fill="#262626" textLength="13.25" lengthAdjust="spacingAndGlyphs" >2</text>
<text x="363.00" y="1007.00" font-size="21.87" text-anchor="middle" fill="#262626" textLength="13.25" lengthAdjust="spacingAndGlyphs" >3</text>
<text x="450.50" y="1033.50" font-size="21.87" text-anchor="end" fill="#262626" textLength="39.32" lengthAdjust="spacingAndGlyphs" >1e6</text>
<text x="261.00" y="645.00" font-size="21.87" text-anchor="middle" font-weight="bold" fill="#262626" textLength="158.28" lengthAdjust="spacingAndGlyphs" >Top 10 Words</text>
<line x1="602.00" y1="656.50" x2="602.00" y2="977.00" stroke="#cccccc" stroke-width="1.9" />
<line x1="652.75" y1="656.50" x2="652.75" y2="977.00" stroke="#cccccc" stroke-width="1.9" />
<line x1="703.50" y1="656.50" x2="703.50" y2="977.00" stroke="#cccccc" stroke-width="1.9" />
<line x1="754.25" y1="656.50" x2="754.25" y2="977.00" stroke="#cccccc" stroke-width="1.9" />
<line x1="805.00" y1="656.50" x2="805.00" y2="977.00" stroke="#cccccc" stroke-width="1.9" />
<line x1="855.75" y1="656.50" x2="855.75" y2="977.00" stroke="#cccccc" stroke-width="1.9" />
<line x1="906.50" y1="656.50" x2="906.50" y2="977.00" stroke="#cccccc" stroke-width="1.9" />
<line x1="565.00" y1="912.90" x2="944.00" y2="912.90" stroke="#cccccc" stroke-width="1.9" />
<line x1="565.00" y1="848.80" x2="944.00" y2="848.80" stroke="#cccccc" stroke-width="1.9" />
<line x1="565.00" y1="784.70" x2="944.00" y2="784.70" stroke="#cccccc" stroke-width="1.9" />
<line x1="565.00" y1="720.60" x2="944.00" y2="720.60" stroke="#cccccc" stroke-width="1.9" />
<rect x="581.70" y="838.20" width="40.60" height="138.80" fill="#414487" stroke="#fff" stroke-width="1.7" />
<rect x="632.45" y="774.20" width="40.60" height="202.80" fill="#355f8d" stroke="#fff" stroke-width="1.7" />
<rect x="683.20" y="746.20" width="40.60" height="230.80" fill="#2a788e" stroke="#fff" stroke-width="1.7" />
<rect x="733.95" y="695.20" width="40.60" height="281.80" fill="#21918c" stroke="#fff" stroke-width="1.7" />
<rect x="784.70" y="680.20" width="40.60" height="296.80" fill="#22a884" stroke="#fff" stroke-width="1.7" />
<rect x="835.45" y="669.20" width="40.60" height="307.80" fill="#44bf70" stroke="#fff" stroke-width="1.7" />
<rect x="886.20" y="661.20" width="40.60" height="315.80" fill="#7ad151" stroke="#fff" stroke-width="1.7" />
<rect x="565.00" y="656.50" width="379.00" height="320.50" fill="none" stroke="#cccccc" stroke-width="2.1"/>
<text x="548.50" y="985.80" font-size="21.87" text-anchor="end" fill="#262626" textLength="13.25" lengthAdjust="spacingAndGlyphs" >0</text>
<text x="548.50" y="921.70" font-size="21.87" text-anchor="end" fill="#262626" textLength="26.51" lengthAdjust="spacingAndGlyphs" >20</text>
<text x="548.50" y="857.60" font-size="21.87" text-anchor="end" fill="#262626" textLength="26.51" lengthAdjust="spacingAndGlyphs" >40</text>
<text x="548.50" y="793.50" font-size="21.87" text-anchor="end" fill="#262626" textLength="26.51" lengthAdjust="spacingAndGlyphs" >60</text>
<text x="548.50" y="729.40" font-size="21.87" text-anchor="end" fill="#262626" textLength="26.51" lengthAdjust="spacingAndGlyphs" >80</text>
<text x="548.50" y="665.30" font-size="21.87" text-anchor="end" fill="#262626" textLength="39.76" lengthAdjust="spacingAndGlyphs" >100</text>
<text transform="translate(599.00,1003.50) rotate(-45)" x="0.00" y="0.00" font-size="17.50" text-anchor="end" fill="#262626" textLength="42.35" lengthAdjust="spacingAndGlyphs" >0.1%</text>
<text transform="translate(649.75,1003.50) rotate(-45)" x="0.00" y="0.00" font-size="17.50" text-anchor="end" fill="#262626" textLength="42.35" lengthAdjust="spacingAndGlyphs" >0.5%</text>
<text transform="translate(700.50,1003.50) rotate(-45)" x="0.00" y="0.00" font-size="17.50" text-anchor="end" fill="#262626" textLength="26.45" lengthAdjust="spacingAndGlyphs" >1%</text>
<text transform="translate(751.25,1003.50) rotate(-45)" x="0.00" y="0.00" font-size="17.50" text-anchor="end" fill="#262626" textLength="26.45" lengthAdjust="spacingAndGlyphs" >5%</text>
<text transform="translate(802.00,1003.50) rotate(-45)" x="0.00" y="0.00" font-size="17.50" text-anchor="end" fill="#262626" textLength="37.05" lengthAdjust="spacingAndGlyphs" >10%</text>
<text transform="translate(852.75,1003.50) rotate(-45)" x="0.00" y="0.00" font-size="17.50" text-anchor="end" fill="#262626" textLength="37.05" lengthAdjust="spacingAndGlyphs" >20%</text>
<text transform="translate(903.50,1003.50) rotate(-45)" x="0.00" y="0.00" font-size="17.50" text-anchor="end" fill="#262626" textLength="37.05" lengthAdjust="spacingAndGlyphs" >50%</text>
<text transform="translate(497.00,819.00) rotate(-90)" x="0.00" y="0.00" font-size="21.87" text-anchor="middle" fill="#262626" textLength="19.79" lengthAdjust="spacingAndGlyphs" >%</text>
<text x="754.50" y="645.00" font-size="21.87" text-anchor="middle" font-weight="bold" fill="#262626" textLength="266.72" lengthAdjust="spacingAndGlyphs" >Coverage (N=986,324)</text>
<line x1="112.25" y1="1089.00" x2="112.25" y2="1408.50" stroke="#cccccc" stroke-width="1.9" />
<line x1="172.50" y1="1089.00" x2="172.50" y2="1408.50" stroke="#cccccc" stroke-width="1.9" />
<line x1="231.50" y1="1089.00" x2="231.50" y2="1408.50" stroke="#cccccc" stroke-width="1.9" />
<line x1="291.50" y1="1089.00" x2="291.50" y2="1408.50" stroke="#cccccc" stroke-width="1.9" />
<line x1="350.50" y1="1089.00" x2="350.50" y2="1408.50" stroke="#cccccc" stroke-width="1.9" />
<line x1="410.50" y1="1089.00" x2="410.50" y2="1408.50" stroke="#cccccc" stroke-width="1.9" />
<line x1="71.00" y1="1333.30" x2="451.00" y2="1333.30" stroke="#cccccc" stroke-width="1.9" />
<line x1="71.00" y1="1258.10" x2="451.00" y2="1258.10" stroke="#cccccc" stroke-width="1.9" />
<line x1="71.00" y1="1182.90" x2="451.00" y2="1182.90" stroke="#cccccc" stroke-width="1.9" />
<line x1="71.00" y1="1107.70" x2="451.00" y2="1107.70" stroke="#cccccc" stroke-width="1.9" />
<rect x="88.25" y="1104.50" width="48.00" height="304.00" fill="#7b68ee" stroke="#000" stroke-width="1" />
<rect x="148.50" y="1104.50" width="48.00" height="304.00" fill="#20b2aa" stroke="#000" stroke-width="1" />
<rect x="207.50" y="1114.50" width="48.00" height="294.00" fill="#7b68ee" stroke="#000" stroke-width="1" />
<rect x="267.50" y="1114.50" width="48.00" height="294.00" fill="#20b2aa" stroke="#000" stroke-width="1" />
<rect x="326.50" y="1125.50" width="48.00" height="283.00" fill="#7b68ee" stroke="#000" stroke-width="1" />
<rect x="386.50" y="1125.50" width="48.00" height="283.00" fill="#20b2aa" stroke="#000" stroke-width="1" />
<rect x="71.00" y="1089.00" width="380.00" height="319.50" fill="none" stroke="#cccccc" stroke-width="2.1"/>
<text x="55.00" y="1417.30" font-size="21.87" text-anchor="end" fill="#262626" textLength="33.13" lengthAdjust="spacingAndGlyphs" >0.0</text>
<text x="55.00" y="1342.10" font-size="21.87" text-anchor="end" fill="#262626" textLength="33.13" lengthAdjust="spacingAndGlyphs" >0.2</text>
<text x="55.00" y="1266.90" font-size="21.87" text-anchor="end" fill="#262626" textLength="33.13" lengthAdjust="spacingAndGlyphs" >0.4</text>
<text x="55.00" y="1191.70" font-size="21.87" text-anchor="end" fill="#262626" textLength="33.13" lengthAdjust="spacingAndGlyphs" >0.6</text>
<text x="55.00" y="1116.50" font-size="21.87" text-anchor="end" fill="#262626" textLength="33.13" lengthAdjust="spacingAndGlyphs" >0.8</text>
<text transform="translate(109.75,1434.50) rotate(-45)" x="0.00" y="0.00" font-size="15.31" text-anchor="end" fill="#262626" textLength="76.38" lengthAdjust="spacingAndGlyphs" >mono_32d</text>
<text transform="translate(168.00,1434.50) rotate(-45)" x="0.00" y="0.00" font-size="15.31" text-anchor="end" fill="#262626" textLength="88.85" lengthAdjust="spacingAndGlyphs" >aligned_32d</text>
<text transform="translate(229.00,1434.50) rotate(-45)" x="0.00" y="0.00" font-size="15.31" text-anchor="end" fill="#262626" textLength="76.38" lengthAdjust="spacingAndGlyphs" >mono_64d</text>
<text transform="translate(287.00,1434.50) rotate(-45)" x="0.00" y="0.00" font-size="15.31" text-anchor="end" fill="#262626" textLength="88.85" lengthAdjust="spacingAndGlyphs" >aligned_64d</text>
<text transform="translate(348.00,1434.50) rotate(-45)" x="0.00" y="0.00" font-size="15.31" text-anchor="end" fill="#262626" textLength="85.66" lengthAdjust="spacingAndGlyphs" >mono_128d</text>
<text transform="translate(406.00,1434.50) rotate(-45)" x="0.00" y="0.00" font-size="15.31" text-anchor="end" fill="#262626" textLength="98.13" lengthAdjust="spacingAndGlyphs" >aligned_128d</text>
<text x="261.00" y="1077.00" font-size="21.87" text-anchor="middle" font-weight="bold" fill="#262626" textLength="294.27" lengthAdjust="spacingAndGlyphs" >Isotropy (Higher=Better)</text>
<line x1="605.90" y1="1089.00" x2="605.90" y2="1408.50" stroke="#cccccc" stroke-width="1.9" />
<line x1="665.40" y1="1089.00" x2="665.40" y2="1408.50" stroke="#cccccc" stroke-width="1.9" />
<line x1="725.00" y1="1089.00" x2="725.00" y2="1408.50" stroke="#cccccc" stroke-width="1.9" />
<line x1="784.40" y1="1089.00" x2="784.40" y2="1408.50" stroke="#cccccc" stroke-width="1.9" />
<line x1="844.00" y1="1089.00" x2="844.00" y2="1408.50" stroke="#cccccc" stroke-width="1.9" />
<line x1="903.40" y1="1089.00" x2="903.40" y2="1408.50" stroke="#cccccc" stroke-width="1.9" />
<line x1="565.00" y1="1324.90" x2="944.50" y2="1324.90" stroke="#cccccc" stroke-width="1.9" />
<line x1="565.00" y1="1241.30" x2="944.50" y2="1241.30" stroke="#cccccc" stroke-width="1.9" />
<line x1="565.00" y1="1157.70" x2="944.50" y2="1157.70" stroke="#cccccc" stroke-width="1.9" />
<rect x="581.90" y="1107.50" width="48.00" height="301.00" fill="#7b68ee" stroke="#000" stroke-width="1" />
<rect x="641.40" y="1104.50" width="48.00" height="304.00" fill="#20b2aa" stroke="#000" stroke-width="1" />
<rect x="701.00" y="1164.25" width="48.00" height="244.25" fill="#7b68ee" stroke="#000" stroke-width="1" />
<rect x="760.40" y="1163.25" width="48.00" height="245.25" fill="#20b2aa" stroke="#000" stroke-width="1" />
<rect x="820.00" y="1213.25" width="48.00" height="195.25" fill="#7b68ee" stroke="#000" stroke-width="1" />
<rect x="879.40" y="1214.25" width="48.00" height="194.25" fill="#20b2aa" stroke="#000" stroke-width="1" />
<rect x="565.00" y="1089.00" width="379.50" height="319.50" fill="none" stroke="#cccccc" stroke-width="2.1"/>
<text x="548.50" y="1417.30" font-size="21.87" text-anchor="end" fill="#262626" textLength="33.13" lengthAdjust="spacingAndGlyphs" >0.0</text>
<text x="548.50" y="1333.70" font-size="21.87" text-anchor="end" fill="#262626" textLength="33.13" lengthAdjust="spacingAndGlyphs" >0.1</text>
<text x="548.50" y="1250.10" font-size="21.87" text-anchor="end" fill="#262626" textLength="33.13" lengthAdjust="spacingAndGlyphs" >0.2</text>
<text x="548.50" y="1166.50" font-size="21.87" text-anchor="end" fill="#262626" textLength="33.13" lengthAdjust="spacingAndGlyphs" >0.3</text>
<text transform="translate(603.40,1434.50) rotate(-45)" x="0.00" y="0.00" font-size="15.31" text-anchor="end" fill="#262626" textLength="76.38" lengthAdjust="spacingAndGlyphs" >mono_32d</text>
<text transform="translate(660.90,1434.50) rotate(-45)" x="0.00" y="0.00" font-size="15.31" text-anchor="end" fill="#262626" textLength="88.85" lengthAdjust="spacingAndGlyphs" >aligned_32d</text>
<text transform="translate(722.50,1434.50) rotate(-45)" x="0.00" y="0.00" font-size="15.31" text-anchor="end" fill="#262626" textLength="76.38" lengthAdjust="spacingAndGlyphs" >mono_64d</text>
<text transform="translate(779.90,1434.50) rotate(-45)" x="0.00" y="0.00" font-size="15.31" text-anchor="end" fill="#262626" textLength="88.85" lengthAdjust="spacingAndGlyphs" >aligned_64d</text>
<text transform="translate(841.50,1434.50) rotate(-45)" x="0.00" y="0.00" font-size="15.31" text-anchor="end" fill="#262626" textLength="85.66" lengthAdjust="spacingAndGlyphs" >mono_128d</text>
<text transform="translate(898.90,1434.50) rotate(-45)" x="0.00" y="0.00" font-size="15.31" text-anchor="end" fill="#262626" textLength="98.13" lengthAdjust="spacingAndGlyphs" >aligned_128d</text>
<text x="754.50" y="1077.00" font-size="21.87" text-anchor="middle" font-weight="bold" fill="#262626" textLength="395.03" lengthAdjust="spacingAndGlyphs" >Semantic Density (Lower=Better)</text>
<line x1="132.50" y1="1521.50" x2="132.50" y2="1841.00" stroke="#cccccc" stroke-width="1.9" />
<line x1="261.00" y1="1521.50" x2="261.00" y2="1841.00" stroke="#cccccc" stroke-width="1.9" />
<line x1="388.75" y1="1521.50" x2="388.75" y2="1841.00" stroke="#cccccc" stroke-width="1.9" />
<line x1="71.00" y1="1761.47" x2="451.00" y2="1761.47" stroke="#cccccc" stroke-width="1.9" />
<line x1="71.00" y1="1681.94" x2="451.00" y2="1681.94" stroke="#cccccc" stroke-width="1.9" />
<line x1="71.00" y1="1602.41" x2="451.00" y2="1602.41" stroke="#cccccc" stroke-width="1.9" />
<line x1="71.00" y1="1522.88" x2="451.00" y2="1522.88" stroke="#cccccc" stroke-width="1.9" />
<rect x="88.00" y="1788.50" width="45.25" height="52.50" fill="#87ceeb" stroke="#000" stroke-width="1" />
<rect x="133.25" y="1648.50" width="45.25" height="192.50" fill="#4682b4" stroke="#000" stroke-width="1" />
<rect x="216.50" y="1728.50" width="45.00" height="112.50" fill="#87ceeb" stroke="#000" stroke-width="1" />
<rect x="261.50" y="1580.50" width="45.00" height="260.50" fill="#4682b4" stroke="#000" stroke-width="1" />
<rect x="344.50" y="1693.50" width="44.75" height="147.50" fill="#87ceeb" stroke="#000" stroke-width="1" />
<rect x="389.25" y="1536.25" width="45.25" height="304.75" fill="#4682b4" stroke="#000" stroke-width="1" />
<rect x="71.00" y="1521.50" width="380.00" height="319.50" fill="none" stroke="#cccccc" stroke-width="2.1"/>
<text x="55.00" y="1849.80" font-size="21.87" text-anchor="end" fill="#262626" textLength="33.13" lengthAdjust="spacingAndGlyphs" >0.0</text>
<text x="55.00" y="1770.27" font-size="21.87" text-anchor="end" fill="#262626" textLength="33.13" lengthAdjust="spacingAndGlyphs" >0.2</text>
<text x="55.00" y="1690.74" font-size="21.87" text-anchor="end" fill="#262626" textLength="33.13" lengthAdjust="spacingAndGlyphs" >0.4</text>
<text x="55.00" y="1611.21" font-size="21.87" text-anchor="end" fill="#262626" textLength="33.13" lengthAdjust="spacingAndGlyphs" >0.6</text>
<text x="55.00" y="1531.68" font-size="21.87" text-anchor="end" fill="#262626" textLength="33.13" lengthAdjust="spacingAndGlyphs" >0.8</text>
<text x="132.50" y="1868.80" font-size="14.22" text-anchor="middle" fill="#262626" textLength="25.82" lengthAdjust="spacingAndGlyphs" >32d</text>
<text x="261.00" y="1868.80" font-size="14.22" text-anchor="middle" fill="#262626" textLength="25.82" lengthAdjust="spacingAndGlyphs" >64d</text>
<text x="388.75" y="1868.80" font-size="14.22" text-anchor="middle" fill="#262626" textLength="34.44" lengthAdjust="spacingAndGlyphs" >128d</text>
<text x="261.00" y="1508.75" font-size="21.87" text-anchor="middle" font-weight="bold" fill="#262626" textLength="371.10" lengthAdjust="spacingAndGlyphs" >Alignment Quality (R@1, R@10)</text>
<rect x="77.00" y="1527.00" width="83.00" height="43.00" rx="3" fill="#fff" fill-opacity="0.8" stroke="#cccccc" stroke-width="1.9" stroke-opacity="0.8"/>
<rect x="82.50" y="1534.50" width="25.00" height="8.00" fill="#87ceeb" stroke="#000" stroke-width="1" />
<rect x="82.50" y="1553.50" width="25.00" height="8.50" fill="#4682b4" stroke="#000" stroke-width="1" />
<text x="118.00" y="1543.60" font-size="13.12" fill="#262626" textLength="29.14" lengthAdjust="spacingAndGlyphs" >R@1</text>
<text x="118.00" y="1562.50" font-size="13.12" fill="#262626" textLength="37.09" lengthAdjust="spacingAndGlyphs" >R@10</text>
<rect x="663.70" y="1649.70" width="181.70" height="63.20" rx="3.5" fill="#fff" fill-opacity="0.8" stroke="#cccccc" stroke-width="1.9" stroke-opacity="0.8"/>
<rect x="671.00" y="1660.00" width="38.00" height="12.80" fill="#7b68ee" stroke="#000" stroke-width="2.1" />
<rect x="671.00" y="1688.20" width="38.00" height="12.80" fill="#20b2aa" stroke="#000" stroke-width="2.1" />
<text x="725.70" y="1672.90" font-size="19.21" fill="#262626" textLength="111.06" lengthAdjust="spacingAndGlyphs" >Monolingual</text>
<text x="725.70" y="1701.60" font-size="19.21" fill="#262626" textLength="68.78" lengthAdjust="spacingAndGlyphs" >Aligned</text>
<rect x="1065.6" y="1641.9" width="857.8" height="79.7" rx="6" fill="#add8e6" fill-opacity="0.3"/>
<text x="1494.50" y="1663.40" font-size="21.87" text-anchor="middle" fill="#262626" textLength="226.68" lengthAdjust="spacingAndGlyphs" xml:space="preserve">Language: Arabic (ar)</text>
<text x="1494.50" y="1687.80" font-size="21.87" text-anchor="middle" fill="#262626" textLength="538.89" lengthAdjust="spacingAndGlyphs" xml:space="preserve">Productivity Index: 0.000  |  Idiomaticity Gap: 0.000</text>
<text x="1494.50" y="1712.30" font-size="21.87" text-anchor="middle" fill="#262626" textLength="845.63" lengthAdjust="spacingAndGlyphs" xml:space="preserve">Models: Tokenizer, N-gram, Markov, Vocab, Embeddings  |  Alignment: Procrustes</text>
<line x1="1138.00" y1="656.70" x2="1138.00" y2="1408.80" stroke="#cccccc" stroke-width="1.7" stroke-opacity="0.3"/>
<line x1="1238.35" y1="656.70" x2="1238.35" y2="1408.80" stroke="#cccccc" stroke-width="1.7" stroke-opacity="0.3"/>
<line x1="1338.70" y1="656.70" x2="1338.70" y2="1408.80" stroke="#cccccc" stroke-width="1.7" stroke-opacity="0.3"/>
<line x1="1439.05" y1="656.70" x2="1439.05" y2="1408.80" stroke="#cccccc" stroke-width="1.7" stroke-opacity="0.3"/>
<line x1="1539.40" y1="656.70" x2="1539.40" y2="1408.80" stroke="#cccccc" stroke-width="1.7" stroke-opacity="0.3"/>
<line x1="1639.75" y1="656.70" x2="1639.75" y2="1408.80" stroke="#cccccc" stroke-width="1.7" stroke-opacity="0.3"/>
<line x1="1740.10" y1="656.70" x2="1740.10" y2="1408.80" stroke="#cccccc" stroke-width="1.7" stroke-opacity="0.3"/>
<line x1="1840.45" y1="656.70" x2="1840.45" y2="1408.80" stroke="#cccccc" stroke-width="1.7" stroke-opacity="0.3"/>
<line x1="1058.00" y1="1318.75" x2="1931.00" y2="1318.75" stroke="#cccccc" stroke-width="1.7" stroke-opacity="0.3"/>
<line x1="1058.00" y1="1204.50" x2="1931.00" y2="1204.50" stroke="#cccccc" stroke-width="1.7" stroke-opacity="0.3"/>
<line x1="1058.00" y1="1090.25" x2="1931.00" y2="1090.25" stroke="#cccccc" stroke-width="1.7" stroke-opacity="0.3"/>
<line x1="1058.00" y1="976.00" x2="1931.00" y2="976.00" stroke="#cccccc" stroke-width="1.7" stroke-opacity="0.3"/>
<line x1="1058.00" y1="861.75" x2="1931.00" y2="861.75" stroke="#cccccc" stroke-width="1.7" stroke-opacity="0.3"/>
<line x1="1058.00" y1="747.50" x2="1931.00" y2="747.50" stroke="#cccccc" stroke-width="1.7" stroke-opacity="0.3"/>
<g fill="#e74c3c" fill-opacity="0.6" stroke="#e74c3c" stroke-opacity="0.6" stroke-width="1.7">
<circle cx="1543.1" cy="713.3" r="5.4"/>
<circle cx="1552.4" cy="714.7" r="5.4"/>
<circle cx="1552.4" cy="719.8" r="5.4"/>
<circle cx="1551.3" cy="725.7" r="5.4"/>
<circle cx="1567.3" cy="709.5" r="5.4"/>
<circle cx="1578.6" cy="707.5" r="5.4"/>
<circle cx="1643.4" cy="739.4" r="5.4"/>
<circle cx="1610.3" cy="760.5" r="5.4"/>
<circle cx="1632.4" cy="758.3" r="5.4"/>
<circle cx="1637.5" cy="757.2" r="5.4"/>
<circle cx="1668.5" cy="754.4" r="5.4"/>
<circle cx="1672.4" cy="756.3" r="5.4"/>
<circle cx="1660.4" cy="770.4" r="5.4"/>
<circle cx="1537.3" cy="774.3" r="5.4"/>
<circle cx="1537.6" cy="774.6" r="5.4"/>
<circle cx="1676.4" cy="781.3" r="5.4"/>
<circle cx="1652.4" cy="786.1" r="5.4"/>
<circle cx="1561.4" cy="789.4" r="5.4"/>
<circle cx="1621.4" cy="790.5" r="5.4"/>
<circle cx="1680.4" cy="792.5" r="5.4"/>
<circle cx="1587.2" cy="796.3" r="5.4"/>
<circle cx="1569.5" cy="800.4" r="5.4"/>
<circle cx="1561.1" cy="803.5" r="5.4"/>
<circle cx="1657.2" cy="800.4" r="5.4"/>
<circle cx="1629.5" cy="803.2" r="5.4"/>
<circle cx="1677.5" cy="806.2" r="5.4"/>
<circle cx="1653.3" cy="814.2" r="5.4"/>
<circle cx="1623.0" cy="817.4" r="5.4"/>
<circle cx="1481.9" cy="818.4" r="5.4"/>
<circle cx="1482.2" cy="818.7" r="5.4"/>
<circle cx="1495.5" cy="826.4" r="5.4"/>
<circle cx="1598.3" cy="823.5" r="5.4"/>
<circle cx="1637.1" cy="822.5" r="5.4"/>
<circle cx="1633.4" cy="829.7" r="5.4"/>
<circle cx="1661.3" cy="826.4" r="5.4"/>
<circle cx="1615.4" cy="835.3" r="5.4"/>
<circle cx="1682.3" cy="834.2" r="5.4"/>
<circle cx="1649.2" cy="840.4" r="5.4"/>
<circle cx="1682.3" cy="847.3" r="5.4"/>
<circle cx="1683.0" cy="854.2" r="5.4"/>
<circle cx="1575.5" cy="849.4" r="5.4"/>
<circle cx="1535.5" cy="854.2" r="5.4"/>
<circle cx="1544.4" cy="858.3" r="5.4"/>
<circle cx="1547.5" cy="864.6" r="5.4"/>
<circle cx="1617.2" cy="854.5" r="5.4"/>
<circle cx="1629.5" cy="857.0" r="5.4"/>
<circle cx="1666.4" cy="860.4" r="5.4"/>
<circle cx="1627.4" cy="868.7" r="5.4"/>
<circle cx="1661.3" cy="875.6" r="5.4"/>
<circle cx="1583.0" cy="890.7" r="5.4"/>
<circle cx="1583.3" cy="891.0" r="5.4"/>
<circle cx="1646.5" cy="892.5" r="5.4"/>
<circle cx="1663.4" cy="893.5" r="5.4"/>
<circle cx="1725.4" cy="691.5" r="5.4"/>
<circle cx="1725.7" cy="691.8" r="5.4"/>
<circle cx="1725.4" cy="691.5" r="5.4"/>
<circle cx="1787.3" cy="737.4" r="5.4"/>
<circle cx="1702.4" cy="748.3" r="5.4"/>
<circle cx="1721.6" cy="746.3" r="5.4"/>
<circle cx="1754.4" cy="747.8" r="5.4"/>
<circle cx="1754.7" cy="748.1" r="5.4"/>
<circle cx="1731.4" cy="765.3" r="5.4"/>
<circle cx="1736.6" cy="772.3" r="5.4"/>
<circle cx="1702.4" cy="773.2" r="5.4"/>
<circle cx="1793.4" cy="770.1" r="5.4"/>
<circle cx="1792.3" cy="776.7" r="5.4"/>
<circle cx="1725.2" cy="778.4" r="5.4"/>
<circle cx="1724.5" cy="783.4" r="5.4"/>
<circle cx="1705.2" cy="782.3" r="5.4"/>
<circle cx="1760.3" cy="786.4" r="5.4"/>
<circle cx="1705.4" cy="793.6" r="5.4"/>
<circle cx="1717.4" cy="801.4" r="5.4"/>
<circle cx="1751.5" cy="803.2" r="5.4"/>
<circle cx="1841.0" cy="805.3" r="5.4"/>
<circle cx="1841.3" cy="805.6" r="5.4"/>
<circle cx="1698.3" cy="807.6" r="5.4"/>
<circle cx="1691.4" cy="808.0" r="5.4"/>
<circle cx="1704.3" cy="812.6" r="5.4"/>
<circle cx="1767.2" cy="812.2" r="5.4"/>
<circle cx="1776.4" cy="813.3" r="5.4"/>
<circle cx="1693.4" cy="819.5" r="5.4"/>
<circle cx="1744.5" cy="820.4" r="5.4"/>
<circle cx="1796.1" cy="823.5" r="5.4"/>
<circle cx="1693.4" cy="828.3" r="5.4"/>
<circle cx="1741.3" cy="830.1" r="5.4"/>
<circle cx="1740.3" cy="833.5" r="5.4"/>
<circle cx="1888.5" cy="830.1" r="5.4"/>
<circle cx="1888.8" cy="830.4" r="5.4"/>
<circle cx="1891.3" cy="839.5" r="5.4"/>
<circle cx="1709.3" cy="845.5" r="5.4"/>
<circle cx="1778.2" cy="848.4" r="5.4"/>
<circle cx="1688.3" cy="853.1" r="5.4"/>
<circle cx="1732.3" cy="856.4" r="5.4"/>
<circle cx="1699.2" cy="866.3" r="5.4"/>
<circle cx="1773.4" cy="877.6" r="5.4"/>
<circle cx="1777.5" cy="877.6" r="5.4"/>
<circle cx="1798.4" cy="877.4" r="5.4"/>
<circle cx="1705.4" cy="883.4" r="5.4"/>
<circle cx="1737.3" cy="921.3" r="5.4"/>
<circle cx="1737.6" cy="921.6" r="5.4"/>
</g>
<g fill="#3498db" fill-opacity="0.6" stroke="#3498db" stroke-opacity="0.6" stroke-width="1.7">
<circle cx="1529.4" cy="1079.3" r="5.4"/>
<circle cx="1529.7" cy="1079.6" r="5.4"/>
<circle cx="1709.8" cy="1097.5" r="5.4"/>
<circle cx="1710.1" cy="1097.8" r="5.4"/>
<circle cx="1590.3" cy="1123.4" r="5.4"/>
<circle cx="1590.6" cy="1123.7" r="5.4"/>
<circle cx="1523.4" cy="1136.2" r="5.4"/>
<circle cx="1527.6" cy="1142.7" r="5.4"/>
<circle cx="1528.5" cy="1146.2" r="5.4"/>
<circle cx="1528.8" cy="1146.5" r="5.4"/>
<circle cx="1666.4" cy="1149.3" r="5.4"/>
<circle cx="1714.1" cy="1150.3" r="5.4"/>
<circle cx="1641.3" cy="1158.4" r="5.4"/>
<circle cx="1655.5" cy="1160.2" r="5.4"/>
<circle cx="1594.4" cy="1165.5" r="5.4"/>
<circle cx="1695.3" cy="1169.3" r="5.4"/>
<circle cx="1587.5" cy="1174.4" r="5.4"/>
<circle cx="1664.3" cy="1178.3" r="5.4"/>
<circle cx="1615.5" cy="1181.3" r="5.4"/>
<circle cx="1685.4" cy="1183.1" r="5.4"/>
<circle cx="1679.9" cy="1186.4" r="5.4"/>
<circle cx="1694.4" cy="1187.2" r="5.4"/>
<circle cx="1644.5" cy="1186.4" r="5.4"/>
<circle cx="1578.6" cy="1200.3" r="5.4"/>
<circle cx="1608.4" cy="1199.2" r="5.4"/>
<circle cx="1622.4" cy="1204.3" r="5.4"/>
<circle cx="1655.5" cy="1206.4" r="5.4"/>
<circle cx="1698.5" cy="1203.4" r="5.4"/>
<circle cx="1690.2" cy="1207.2" r="5.4"/>
<circle cx="1632.3" cy="1214.4" r="5.4"/>
<circle cx="1618.3" cy="1216.5" r="5.4"/>
<circle cx="1676.5" cy="1217.2" r="5.4"/>
<circle cx="1601.3" cy="1221.3" r="5.4"/>
<circle cx="1712.3" cy="1220.3" r="5.4"/>
<circle cx="1683.3" cy="1224.0" r="5.4"/>
<circle cx="1688.9" cy="1227.5" r="5.4"/>
<circle cx="1679.2" cy="1230.7" r="5.4"/>
<circle cx="1548.2" cy="1226.1" r="5.4"/>
<circle cx="1557.2" cy="1229.3" r="5.4"/>
<circle cx="1640.3" cy="1228.2" r="5.4"/>
<circle cx="1574.4" cy="1234.4" r="5.4"/>
<circle cx="1666.4" cy="1235.4" r="5.4"/>
<circle cx="1709.5" cy="1235.4" r="5.4"/>
<circle cx="1614.4" cy="1236.5" r="5.4"/>
<circle cx="1546.5" cy="1238.5" r="5.4"/>
<circle cx="1650.5" cy="1240.3" r="5.4"/>
<circle cx="1685.4" cy="1244.3" r="5.4"/>
<circle cx="1610.3" cy="1252.3" r="5.4"/>
<circle cx="1644.5" cy="1253.4" r="5.4"/>
<circle cx="1697.4" cy="1254.4" r="5.4"/>
<circle cx="1676.5" cy="1257.5" r="5.4"/>
<circle cx="1624.1" cy="1265.4" r="5.4"/>
<circle cx="1618.3" cy="1268.4" r="5.4"/>
<circle cx="1659.5" cy="1267.2" r="5.4"/>
<circle cx="1589.3" cy="1269.5" r="5.4"/>
<circle cx="1704.4" cy="1268.4" r="5.4"/>
<circle cx="1676.5" cy="1293.4" r="5.4"/>
<circle cx="1702.4" cy="1287.5" r="5.4"/>
<circle cx="1707.5" cy="1286.5" r="5.4"/>
<circle cx="1611.4" cy="1301.5" r="5.4"/>
<circle cx="1611.7" cy="1301.8" r="5.4"/>
<circle cx="1724.4" cy="1105.5" r="5.4"/>
<circle cx="1779.4" cy="1159.3" r="5.4"/>
<circle cx="1788.1" cy="1171.0" r="5.4"/>
<circle cx="1790.5" cy="1173.7" r="5.4"/>
<circle cx="1790.8" cy="1174.0" r="5.4"/>
<circle cx="1728.4" cy="1176.5" r="5.4"/>
<circle cx="1850.4" cy="1163.4" r="5.4"/>
<circle cx="1859.5" cy="1160.4" r="5.4"/>
<circle cx="1865.5" cy="1155.1" r="5.4"/>
<circle cx="1876.3" cy="1179.4" r="5.4"/>
<circle cx="1719.4" cy="1192.3" r="5.4"/>
<circle cx="1812.6" cy="1193.3" r="5.4"/>
<circle cx="1817.7" cy="1193.3" r="5.4"/>
<circle cx="1774.3" cy="1201.3" r="5.4"/>
<circle cx="1779.5" cy="1200.3" r="5.4"/>
<circle cx="1741.2" cy="1211.4" r="5.4"/>
<circle cx="1733.3" cy="1233.4" r="5.4"/>
<circle cx="1741.2" cy="1235.4" r="5.4"/>
<circle cx="1756.4" cy="1233.0" r="5.4"/>
<circle cx="1761.6" cy="1240.3" r="5.4"/>
<circle cx="1800.9" cy="1236.5" r="5.4"/>
<circle cx="1801.2" cy="1236.8" r="5.4"/>
<circle cx="1721.2" cy="1242.2" r="5.4"/>
<circle cx="1730.4" cy="1249.6" r="5.4"/>
<circle cx="1779.4" cy="1256.4" r="5.4"/>
<circle cx="1763.2" cy="1264.4" r="5.4"/>
<circle cx="1840.2" cy="1250.2" r="5.4"/>
<circle cx="1836.3" cy="1255.5" r="5.4"/>
<circle cx="1736.4" cy="1272.0" r="5.4"/>
<circle cx="1735.4" cy="1275.7" r="5.4"/>
<circle cx="1735.7" cy="1276.0" r="5.4"/>
<circle cx="1803.2" cy="1287.5" r="5.4"/>
<circle cx="1730.4" cy="1297.4" r="5.4"/>
<circle cx="1485.4" cy="1312.6" r="5.4"/>
<circle cx="1403.1" cy="1322.7" r="5.4"/>
<circle cx="1370.3" cy="1343.4" r="5.4"/>
<circle cx="1386.6" cy="1351.4" r="5.4"/>
<circle cx="1380.3" cy="1363.3" r="5.4"/>
<circle cx="1407.5" cy="1350.3" r="5.4"/>
<circle cx="1404.1" cy="1357.1" r="5.4"/>
<circle cx="1401.3" cy="1362.7" r="5.4"/>
<circle cx="1428.2" cy="1348.9" r="5.4"/>
<circle cx="1422.0" cy="1356.5" r="5.4"/>
<circle cx="1419.3" cy="1368.2" r="5.4"/>
<circle cx="1416.5" cy="1375.1" r="5.4"/>
<circle cx="1416.8" cy="1375.4" r="5.4"/>
<circle cx="1486.8" cy="1339.2" r="5.4"/>
<circle cx="1487.1" cy="1339.5" r="5.4"/>
<circle cx="1468.9" cy="1364.0" r="5.4"/>
<circle cx="1469.2" cy="1364.3" r="5.4"/>
<circle cx="1464.8" cy="1362.7" r="5.4"/>
<circle cx="1465.1" cy="1363.0" r="5.4"/>
<circle cx="1722.3" cy="1344.2" r="5.4"/>
<circle cx="1731.4" cy="1345.9" r="5.4"/>
<circle cx="1738.2" cy="1349.3" r="5.4"/>
<circle cx="1735.3" cy="1354.4" r="5.4"/>
<circle cx="1755.3" cy="1346.2" r="5.4"/>
<circle cx="1765.5" cy="1342.2" r="5.4"/>
</g>
<g fill="#2ecc71" fill-opacity="0.6" stroke="#2ecc71" stroke-opacity="0.6" stroke-width="1.7">
<circle cx="1137.4" cy="982.4" r="5.4"/>
<circle cx="1137.7" cy="982.7" r="5.4"/>
<circle cx="1204.4" cy="991.4" r="5.4"/>
<circle cx="1204.7" cy="991.7" r="5.4"/>
<circle cx="1243.5" cy="1013.4" r="5.4"/>
<circle cx="1293.9" cy="1010.9" r="5.4"/>
<circle cx="1294.2" cy="1011.2" r="5.4"/>
<circle cx="1235.5" cy="1024.5" r="5.4"/>
<circle cx="1175.3" cy="1025.8" r="5.4"/>
<circle cx="1175.6" cy="1026.1" r="5.4"/>
<circle cx="1202.2" cy="1035.3" r="5.4"/>
<circle cx="1226.3" cy="1036.6" r="5.4"/>
<circle cx="1281.4" cy="1040.3" r="5.4"/>
<circle cx="1241.2" cy="1044.4" r="5.4"/>
<circle cx="1133.2" cy="1047.5" r="5.4"/>
<circle cx="1261.5" cy="1055.5" r="5.4"/>
<circle cx="1284.5" cy="1055.5" r="5.4"/>
<circle cx="1145.4" cy="1059.6" r="5.4"/>
<circle cx="1193.4" cy="1062.4" r="5.4"/>
<circle cx="1225.3" cy="1061.3" r="5.4"/>
<circle cx="1291.4" cy="1070.2" r="5.4"/>
<circle cx="1198.3" cy="1073.4" r="5.4"/>
<circle cx="1232.5" cy="1075.5" r="5.4"/>
<circle cx="1274.6" cy="1074.4" r="5.4"/>
<circle cx="1222.4" cy="1082.4" r="5.4"/>
<circle cx="1249.0" cy="1083.3" r="5.4"/>
<circle cx="1259.8" cy="1083.3" r="5.4"/>
<circle cx="1264.2" cy="1086.5" r="5.4"/>
<circle cx="1297.3" cy="1086.5" r="5.4"/>
<circle cx="1145.4" cy="1085.4" r="5.4"/>
<circle cx="1176.4" cy="1095.4" r="5.4"/>
<circle cx="1223.3" cy="1095.4" r="5.4"/>
<circle cx="1233.3" cy="1099.3" r="5.4"/>
<circle cx="1277.4" cy="1094.1" r="5.4"/>
<circle cx="1282.4" cy="1100.4" r="5.4"/>
<circle cx="1195.3" cy="1104.3" r="5.4"/>
<circle cx="1099.3" cy="1106.5" r="5.4"/>
<circle cx="1099.6" cy="1106.8" r="5.4"/>
<circle cx="1272.2" cy="1108.3" r="5.4"/>
<circle cx="1134.2" cy="1111.3" r="5.4"/>
<circle cx="1141.5" cy="1117.5" r="5.4"/>
<circle cx="1248.4" cy="1118.5" r="5.4"/>
<circle cx="1204.4" cy="1120.3" r="5.4"/>
<circle cx="1158.3" cy="1124.1" r="5.4"/>
<circle cx="1162.3" cy="1130.6" r="5.4"/>
<circle cx="1184.3" cy="1127.2" r="5.4"/>
<circle cx="1276.3" cy="1126.2" r="5.4"/>
<circle cx="1214.3" cy="1131.3" r="5.4"/>
<circle cx="1230.2" cy="1134.3" r="5.4"/>
<circle cx="1242.4" cy="1137.2" r="5.4"/>
<circle cx="1120.4" cy="1138.5" r="5.4"/>
<circle cx="1144.3" cy="1138.5" r="5.4"/>
<circle cx="1208.4" cy="1142.3" r="5.4"/>
<circle cx="1278.4" cy="1138.5" r="5.4"/>
<circle cx="1279.1" cy="1143.4" r="5.4"/>
<circle cx="1238.3" cy="1144.4" r="5.4"/>
<circle cx="1291.4" cy="1147.4" r="5.4"/>
<circle cx="1214.6" cy="1149.2" r="5.4"/>
<circle cx="1178.3" cy="1151.4" r="5.4"/>
<circle cx="1195.1" cy="1153.3" r="5.4"/>
<circle cx="1212.2" cy="1157.5" r="5.4"/>
<circle cx="1257.3" cy="1157.2" r="5.4"/>
<circle cx="1252.2" cy="1160.2" r="5.4"/>
<circle cx="1297.3" cy="1162.3" r="5.4"/>
<circle cx="1238.3" cy="1166.4" r="5.4"/>
<circle cx="1174.3" cy="1167.4" r="5.4"/>
<circle cx="1257.3" cy="1170.6" r="5.4"/>
<circle cx="1202.2" cy="1177.2" r="5.4"/>
<circle cx="1110.2" cy="1179.5" r="5.4"/>
<circle cx="1123.2" cy="1180.9" r="5.4"/>
<circle cx="1132.6" cy="1183.0" r="5.4"/>
<circle cx="1198.3" cy="1183.4" r="5.4"/>
<circle cx="1248.4" cy="1184.4" r="5.4"/>
<circle cx="1248.7" cy="1184.7" r="5.4"/>
<circle cx="1289.4" cy="1183.4" r="5.4"/>
<circle cx="1133.1" cy="1190.6" r="5.4"/>
<circle cx="1191.1" cy="1191.5" r="5.4"/>
<circle cx="1223.3" cy="1216.1" r="5.4"/>
<circle cx="1223.6" cy="1216.4" r="5.4"/>
<circle cx="1222.2" cy="1218.1" r="5.4"/>
<circle cx="1348.5" cy="1040.3" r="5.4"/>
<circle cx="1330.4" cy="1046.5" r="5.4"/>
<circle cx="1319.5" cy="1065.4" r="5.4"/>
<circle cx="1371.5" cy="1073.4" r="5.4"/>
<circle cx="1451.2" cy="1068.4" r="5.4"/>
<circle cx="1451.5" cy="1068.7" r="5.4"/>
<circle cx="1307.4" cy="1078.5" r="5.4"/>
<circle cx="1340.5" cy="1089.4" r="5.4"/>
<circle cx="1305.3" cy="1095.4" r="5.4"/>
<circle cx="1338.1" cy="1104.8" r="5.4"/>
<circle cx="1338.1" cy="1109.9" r="5.4"/>
<circle cx="1390.4" cy="1101.4" r="5.4"/>
<circle cx="1306.4" cy="1117.5" r="5.4"/>
<circle cx="1320.5" cy="1127.2" r="5.4"/>
<circle cx="1321.5" cy="1134.5" r="5.4"/>
<circle cx="1366.3" cy="1132.4" r="5.4"/>
<circle cx="1378.4" cy="1131.3" r="5.4"/>
<circle cx="1314.3" cy="1157.2" r="5.4"/>
<circle cx="1326.4" cy="1164.4" r="5.4"/>
<circle cx="1443.3" cy="1155.4" r="5.4"/>
<circle cx="1400.5" cy="1173.3" r="5.4"/>
<circle cx="1348.3" cy="1204.5" r="5.4"/>
<circle cx="1370.3" cy="1210.1" r="5.4"/>
<circle cx="1369.6" cy="1216.5" r="5.4"/>
<circle cx="1426.8" cy="1192.4" r="5.4"/>
<circle cx="1427.1" cy="1192.7" r="5.4"/>
<circle cx="1453.0" cy="1195.4" r="5.4"/>
<circle cx="1458.8" cy="1196.5" r="5.4"/>
<circle cx="1459.1" cy="1196.8" r="5.4"/>
<circle cx="1428.2" cy="1206.9" r="5.4"/>
<circle cx="1455.5" cy="1214.5" r="5.4"/>
<circle cx="1388.2" cy="1263.4" r="5.4"/>
<circle cx="1388.5" cy="1263.7" r="5.4"/>
<circle cx="1388.2" cy="1263.4" r="5.4"/>
<circle cx="1388.5" cy="1263.7" r="5.4"/>
<circle cx="1460.3" cy="1281.3" r="5.4"/>
<circle cx="1460.6" cy="1281.6" r="5.4"/>
<circle cx="1485.4" cy="1309.6" r="5.4"/>
</g>
<g stroke="#808080" stroke-opacity="0.4" stroke-width="0.85">
<line x1="1348.3" y1="1204.5" x2="1428.2" y2="1348.9"/>
<line x1="1370.3" y1="1213.1" x2="1407.5" y2="1350.3"/>
<line x1="1369.6" y1="1216.5" x2="1422.0" y2="1356.5"/>
<line x1="1426.8" y1="1192.4" x2="1380.3" y2="1363.3"/>
<line x1="1426.8" y1="1192.4" x2="1370.3" y2="1343.4"/>
<line x1="1428.2" y1="1206.9" x2="1386.6" y2="1351.4"/>
<line x1="1453.0" y1="1195.4" x2="1401.3" y2="1362.7"/>
<line x1="1458.8" y1="1196.5" x2="1404.1" y2="1357.1"/>
<line x1="1455.5" y1="1214.5" x2="1403.1" y2="1322.7"/>
<line x1="1455.5" y1="1214.5" x2="1407.5" y2="1350.3"/>
<line x1="1388.2" y1="1263.4" x2="1468.9" y2="1364.0"/>
<line x1="1388.2" y1="1263.4" x2="1468.2" y2="1363.3"/>
<line x1="1388.2" y1="1263.4" x2="1469.6" y2="1364.4"/>
<line x1="1460.3" y1="1281.3" x2="1486.8" y2="1339.2"/>
<line x1="1485.4" y1="1309.6" x2="1485.4" y2="1312.6"/>
</g>
<text x="1427.50" y="1191.70" font-size="13.12" fill="#2ecc71" fill-opacity="0.7" textLength="138.20" lengthAdjust="spacingAndGlyphs" >CollinsDictionary.com.</text>
<text x="1349.00" y="1203.40" font-size="13.12" fill="#2ecc71" fill-opacity="0.7" textLength="132.17" lengthAdjust="spacingAndGlyphs" >proliferator-activated</text>
<text x="1373.10" y="1210.30" font-size="13.12" fill="#2ecc71" fill-opacity="0.7" textLength="171.02" lengthAdjust="spacingAndGlyphs" >GeneReviews/NCBI/NIH/UW</text>
<text x="1459.20" y="1213.80" font-size="13.12" fill="#2ecc71" fill-opacity="0.7" textLength="160.23" lengthAdjust="spacingAndGlyphs" >style=&quot;text-align:center;&quot;</text>
<text x="1389.00" y="1264.10" font-size="13.12" fill="#2ecc71" fill-opacity="0.7" textLength="155.30" lengthAdjust="spacingAndGlyphs" >Butterworth-Heinemann,</text>
<text x="1389.00" y="1264.10" font-size="13.12" fill="#2ecc71" fill-opacity="0.7" textLength="201.66" lengthAdjust="spacingAndGlyphs" >Oxford:Butterworth-Heinemann.</text>
<text x="1404.10" y="1322.70" font-size="13.12" fill="#3498db" fill-opacity="0.7" textLength="160.23" lengthAdjust="spacingAndGlyphs" >style=&quot;text-align:center;&quot;</text>
<text x="1410.30" y="1351.00" font-size="13.12" fill="#3498db" fill-opacity="0.7" textLength="171.02" lengthAdjust="spacingAndGlyphs" >GeneReviews/NCBI/NIH/UW</text>
<text x="1426.80" y="1349.00" font-size="13.12" fill="#3498db" fill-opacity="0.7" textLength="132.17" lengthAdjust="spacingAndGlyphs" >proliferator-activated</text>
<text x="1382.00" y="1363.30" font-size="13.12" fill="#3498db" fill-opacity="0.7" textLength="138.20" lengthAdjust="spacingAndGlyphs" >CollinsDictionary.com.</text>
<text x="1469.00" y="1364.00" font-size="13.12" fill="#3498db" fill-opacity="0.7" textLength="155.30" lengthAdjust="spacingAndGlyphs" >Butterworth-Heinemann,</text>
<text x="1469.00" y="1364.00" font-size="13.12" fill="#3498db" fill-opacity="0.7" textLength="201.66" lengthAdjust="spacingAndGlyphs" >Oxford:Butterworth-Heinemann.</text>
<text x="1624.30" y="817.40" font-size="13.12" fill="#e74c3c" fill-opacity="0.7" >على</text>
<text x="1638.40" y="822.50" font-size="13.12" fill="#e74c3c" fill-opacity="0.7" >من</text>
<text x="1634.70" y="829.70" font-size="13.12" fill="#e74c3c" fill-opacity="0.7" >في</text>
<text x="1662.60" y="826.40" font-size="13.12" fill="#e74c3c" fill-opacity="0.7" >إلى</text>
<text x="1630.80" y="857.00" font-size="13.12" fill="#e74c3c" fill-opacity="0.7" >عام</text>
<text x="1706.50" y="782.30" font-size="13.12" fill="#e74c3c" fill-opacity="0.7" >أن</text>
<rect x="1058.00" y="656.70" width="873.00" height="752.10" fill="none" stroke="#cccccc" stroke-width="2.1"/>
<text x="1042.00" y="1327.55" font-size="21.87" text-anchor="end" fill="#262626" textLength="34.02" lengthAdjust="spacingAndGlyphs" >-20</text>
<text x="1042.00" y="1213.30" font-size="21.87" text-anchor="end" fill="#262626" textLength="34.02" lengthAdjust="spacingAndGlyphs" >-10</text>
<text x="1042.00" y="1099.05" font-size="21.87" text-anchor="end" fill="#262626" textLength="13.25" lengthAdjust="spacingAndGlyphs" >0</text>
<text x="1042.00" y="984.80" font-size="21.87" text-anchor="end" fill="#262626" textLength="26.51" lengthAdjust="spacingAndGlyphs" >10</text>
<text x="1042.00" y="870.55" font-size="21.87" text-anchor="end" fill="#262626" textLength="26.51" lengthAdjust="spacingAndGlyphs" >20</text>
<text x="1042.00" y="756.30" font-size="21.87" text-anchor="end" fill="#262626" textLength="26.51" lengthAdjust="spacingAndGlyphs" >30</text>
<text x="1138.00" y="1438.00" font-size="21.87" text-anchor="middle" fill="#262626" textLength="34.02" lengthAdjust="spacingAndGlyphs" >-20</text>
<text x="1238.35" y="1438.00" font-size="21.87" text-anchor="middle" fill="#262626" textLength="34.02" lengthAdjust="spacingAndGlyphs" >-15</text>
<text x="1338.70" y="1438.00" font-size="21.87" text-anchor="middle" fill="#262626" textLength="34.02" lengthAdjust="spacingAndGlyphs" >-10</text>
<text x="1439.05" y="1438.00" font-size="21.87" text-anchor="middle" fill="#262626" textLength="20.77" lengthAdjust="spacingAndGlyphs" >-5</text>
<text x="1539.40" y="1438.00" font-size="21.87" text-anchor="middle" fill="#262626" textLength="13.25" lengthAdjust="spacingAndGlyphs" >0</text>
<text x="1639.75" y="1438.00" font-size="21.87" text-anchor="middle" fill="#262626" textLength="13.25" lengthAdjust="spacingAndGlyphs" >5</text>
<text x="1740.10" y="1438.00" font-size="21.87" text-anchor="middle" fill="#262626" textLength="26.51" lengthAdjust="spacingAndGlyphs" >10</text>
<text x="1840.45" y="1438.00" font-size="21.87" text-anchor="middle" fill="#262626" textLength="26.51" lengthAdjust="spacingAndGlyphs" >15</text>
<text x="1494.50" y="645.00" font-size="21.87" text-anchor="middle" font-weight="bold" fill="#262626" textLength="216.42" lengthAdjust="spacingAndGlyphs" >t-SNE Words (330)</text>
<rect x="1800.30" y="665.10" width="122.70" height="83.60" rx="3.5" fill="#fff" fill-opacity="0.8" stroke="#cccccc" stroke-width="1.9" stroke-opacity="0.8"/>
<circle cx="1824.4" cy="681.5" r="5.4" fill="#e74c3c" fill-opacity="0.6" stroke="#e74c3c" stroke-opacity="0.6" stroke-width="1.7"/>
<text x="1854.90" y="685.50" font-size="17.50" fill="#262626" textLength="45.35" lengthAdjust="spacingAndGlyphs" >Mono</text>
<circle cx="1824.4" cy="708.5" r="5.4" fill="#3498db" fill-opacity="0.6" stroke="#3498db" stroke-opacity="0.6" stroke-width="1.7"/>
<text x="1854.90" y="712.80" font-size="17.50" fill="#262626" textLength="62.65" lengthAdjust="spacingAndGlyphs" >Aligned</text>
<circle cx="1824.4" cy="734.3" r="5.4" fill="#2ecc71" fill-opacity="0.6" stroke="#2ecc71" stroke-opacity="0.6" stroke-width="1.7"/>
<text x="1854.90" y="738.40" font-size="17.50" fill="#262626" textLength="60.19" lengthAdjust="spacingAndGlyphs" >English</text>
</svg></body></html>
